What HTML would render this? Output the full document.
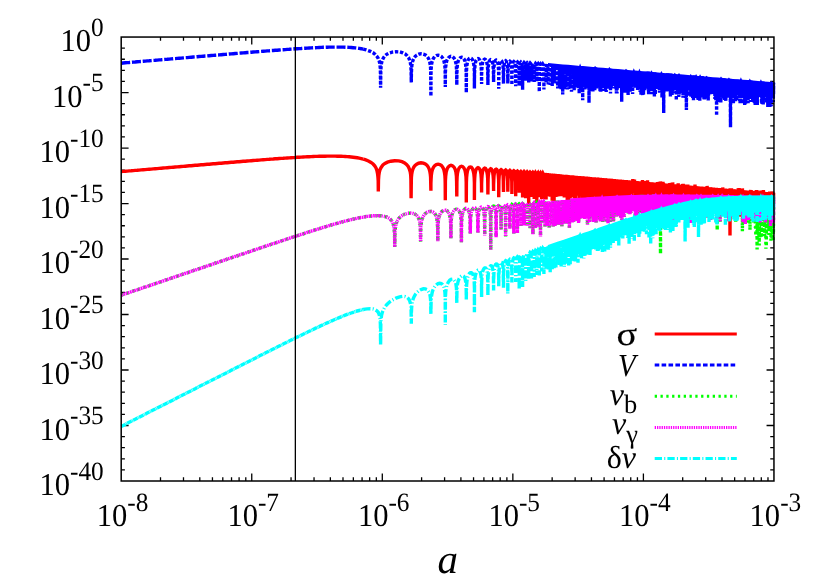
<!DOCTYPE html>
<html><head><meta charset="utf-8"><title>chart</title>
<style>html,body{margin:0;padding:0;background:#fff}svg{display:block}</style>
</head><body>
<svg width="830" height="581" viewBox="0 0 830 581" style="will-change:transform">
<rect width="830" height="581" fill="#fff"/>
<path d="M160.50 481.00v-3.70M160.50 37.05v3.70M183.49 481.00v-3.70M183.49 37.05v3.70M199.80 481.00v-3.70M199.80 37.05v3.70M212.45 481.00v-3.70M212.45 37.05v3.70M222.79 481.00v-3.70M222.79 37.05v3.70M231.53 481.00v-3.70M231.53 37.05v3.70M239.10 481.00v-3.70M239.10 37.05v3.70M245.78 481.00v-3.70M245.78 37.05v3.70M251.75 481.00v-7.40M251.75 37.05v7.40M291.05 481.00v-3.70M291.05 37.05v3.70M314.04 481.00v-3.70M314.04 37.05v3.70M330.35 481.00v-3.70M330.35 37.05v3.70M343.00 481.00v-3.70M343.00 37.05v3.70M353.34 481.00v-3.70M353.34 37.05v3.70M362.08 481.00v-3.70M362.08 37.05v3.70M369.65 481.00v-3.70M369.65 37.05v3.70M376.33 481.00v-3.70M376.33 37.05v3.70M382.30 481.00v-7.40M382.30 37.05v7.40M421.60 481.00v-3.70M421.60 37.05v3.70M444.59 481.00v-3.70M444.59 37.05v3.70M460.90 481.00v-3.70M460.90 37.05v3.70M473.55 481.00v-3.70M473.55 37.05v3.70M483.89 481.00v-3.70M483.89 37.05v3.70M492.63 481.00v-3.70M492.63 37.05v3.70M500.20 481.00v-3.70M500.20 37.05v3.70M506.88 481.00v-3.70M506.88 37.05v3.70M512.85 481.00v-7.40M512.85 37.05v7.40M552.15 481.00v-3.70M552.15 37.05v3.70M575.14 481.00v-3.70M575.14 37.05v3.70M591.45 481.00v-3.70M591.45 37.05v3.70M604.10 481.00v-3.70M604.10 37.05v3.70M614.44 481.00v-3.70M614.44 37.05v3.70M623.18 481.00v-3.70M623.18 37.05v3.70M630.75 481.00v-3.70M630.75 37.05v3.70M637.43 481.00v-3.70M637.43 37.05v3.70M643.40 481.00v-7.40M643.40 37.05v7.40M682.70 481.00v-3.70M682.70 37.05v3.70M705.69 481.00v-3.70M705.69 37.05v3.70M722.00 481.00v-3.70M722.00 37.05v3.70M734.65 481.00v-3.70M734.65 37.05v3.70M744.99 481.00v-3.70M744.99 37.05v3.70M753.73 481.00v-3.70M753.73 37.05v3.70M761.30 481.00v-3.70M761.30 37.05v3.70M767.98 481.00v-3.70M767.98 37.05v3.70M121.20 48.15h3.70M773.95 48.15h-3.70M121.20 59.25h3.70M773.95 59.25h-3.70M121.20 70.35h3.70M773.95 70.35h-3.70M121.20 81.44h3.70M773.95 81.44h-3.70M121.20 92.54h7.40M773.95 92.54h-7.40M121.20 103.64h3.70M773.95 103.64h-3.70M121.20 114.74h3.70M773.95 114.74h-3.70M121.20 125.84h3.70M773.95 125.84h-3.70M121.20 136.94h3.70M773.95 136.94h-3.70M121.20 148.04h7.40M773.95 148.04h-7.40M121.20 159.14h3.70M773.95 159.14h-3.70M121.20 170.24h3.70M773.95 170.24h-3.70M121.20 181.33h3.70M773.95 181.33h-3.70M121.20 192.43h3.70M773.95 192.43h-3.70M121.20 203.53h7.40M773.95 203.53h-7.40M121.20 214.63h3.70M773.95 214.63h-3.70M121.20 225.73h3.70M773.95 225.73h-3.70M121.20 236.83h3.70M773.95 236.83h-3.70M121.20 247.93h3.70M773.95 247.93h-3.70M121.20 259.02h7.40M773.95 259.02h-7.40M121.20 270.12h3.70M773.95 270.12h-3.70M121.20 281.22h3.70M773.95 281.22h-3.70M121.20 292.32h3.70M773.95 292.32h-3.70M121.20 303.42h3.70M773.95 303.42h-3.70M121.20 314.52h7.40M773.95 314.52h-7.40M121.20 325.62h3.70M773.95 325.62h-3.70M121.20 336.72h3.70M773.95 336.72h-3.70M121.20 347.81h3.70M773.95 347.81h-3.70M121.20 358.91h3.70M773.95 358.91h-3.70M121.20 370.01h7.40M773.95 370.01h-7.40M121.20 381.11h3.70M773.95 381.11h-3.70M121.20 392.21h3.70M773.95 392.21h-3.70M121.20 403.31h3.70M773.95 403.31h-3.70M121.20 414.41h3.70M773.95 414.41h-3.70M121.20 425.51h7.40M773.95 425.51h-7.40M121.20 436.60h3.70M773.95 436.60h-3.70M121.20 447.70h3.70M773.95 447.70h-3.70M121.20 458.80h3.70M773.95 458.80h-3.70M121.20 469.90h3.70M773.95 469.90h-3.70" stroke="#000" stroke-width="1.3" fill="none"/>
<clipPath id="cp"><rect x="120.5" y="37.05" width="655.05" height="443.95"/></clipPath>
<g clip-path="url(#cp)" fill="none" stroke-width="3.4" stroke-linejoin="miter" stroke-miterlimit="3">
<path stroke="#ff0000" d="M121.2 171.6l2-0.2l2-0.1l2-0.2l2-0.2l2-0.1l2-0.2l2-0.2l2-0.1l2-0.2l2-0.2l2-0.2l2-0.1l2-0.2l2-0.2l2-0.1l2-0.2l2-0.2l2-0.1l2-0.2l2-0.2l2-0.2l2-0.1l2-0.2l2-0.2l2-0.1l2-0.2l2-0.2l2-0.1l2-0.2l2-0.2l2-0.1l2-0.2l2-0.2l2-0.2l2-0.1l2-0.2l2-0.2l2-0.1l2-0.2l2-0.2l2-0.1l2-0.2l2-0.2l2-0.1l2-0.2l2-0.2l2-0.1l2-0.2l2-0.2l2-0.1l2-0.2l2-0.2l2-0.1l2-0.2l2-0.2l2-0.1l2-0.2l2-0.2l2-0.1l2-0.2l2-0.2l2-0.1l2-0.2l2-0.1l2-0.2l2-0.2l2-0.1l2-0.2l2-0.1l2-0.2l2-0.2l2-0.1l2-0.2l2-0.1l2-0.2l2-0.1l2-0.2l2-0.1l2-0.2l2-0.1l2-0.1l2-0.2l2-0.1l2-0.1l2-0.2l2-0.1l2-0.1l2-0.2l2-0.1l2-0.1l2-0.1l2-0.1l2-0.1l2-0.1l2-0.1l2-0.1l2-0.1l2 0l2-0.1l2-0.1l2 0l2 0l2-0.1l2 0l2 0l2 0l2 0l2 0.1l2 0l2 0.1l2 0.1l2 0.1l2 0.1l2 0.2l2 0.2l2 0.2l2 0.3l2 0.3l2 0.4l2 0.4l2 0.5"/>
<path stroke="#ff0000" d="M363.2 159.1l2 0.6l3.2 1.3l2.6 1.4l2.1 1.6l1.6 1.8l1.3 2.1l0.9 2.4l0.6 3l0.4 3.3l0.3 4.4l0.1 10.5l0.2-11.5l0.3-4.4l0.5-3.3l0.8-2.9l1.2-2.3l1.6-2.1l2-1.5l2.6-1.3l3.3-1l3.9-0.5l4 0.2l3.3 0.8l2.6 1.2l1.9 1.6l1.7 2l1.1 2.4l0.9 2.9l0.5 3.3l0.2 4.4l0.2 18.7l0.2-16.2l0.1-4.4l0.3-3.3l0.5-2.9l0.7-2.3l1-2.1l1.2-1.5l1.6-1.3l1.9-1l2.4-0.4l2.4 0.3l1.9 0.9l1.6 1.2l1.2 1.6l1 2l0.7 2.4l0.5 2.9l0.3 3.3l0.1 4.5l0.2 8.8l0-7.3l0.2-4.4l0.2-3.4l0.4-2.9l0.5-2.3l0.7-2l0.8-1.5l1.2-1.4l1.4-0.9l1.8-0.4l1.7 0.4l1.5 0.8l1.1 1.3l0.9 1.6l0.7 2l0.5 2.4l0.4 2.9l0.2 3.3l0.1 4.5l0.1 16.9l0.1-19.2l0.3-5.1l0.5-3.9l0.8-2.9l1.2-2.2l1.5-1.3l1.3-0.4l1.4 0.4l1.5 1.3l1.2 2.1l0.8 2.9l0.5 4l0.2 5.1l0.2 15.4l0.1-14.5l0.2-5.1l0.4-3.9l0.7-2.9l1-2.2l1.2-1.3l1.1-0.4l1.2 0.4l1.2 1.3l1 2.1l0.6 2.9l0.5 4l0.2 5.1l0.1 20.6l0.1-19.8l0.2-5.2l0.4-3.9l0.5-2.9l0.8-2.1l1.1-1.4l1-0.3l1 0.3l1 1.3l0.8 2.2l0.6 2.9l0.4 3.9l0.2 5.2l0 17.3l0.1-16.7l0.2-5.1l0.3-4l0.5-2.8l0.7-2.2l1-1.3l0.8-0.4l0.9 0.4l0.9 1.3l0.7 2.1l0.5 2.9l0.3 4l0.2 5.1l0.1 9l0-8.4l0.2-5.1l0.3-4l0.4-2.9l0.6-2.1l0.9-1.3l0.7-0.4l0.8 0.3l0.8 1.3l0.6 2.2l0.5 2.9l0.3 3.9l0.1 5.2l0.1 10.4l0.1-9.9l0.1-5.1l0.2-4l0.4-2.9l0.6-2.1l0.8-1.3l0.6-0.4l0.7 0.3l0.8 1.4l0.5 2.1l0.4 2.9l0.3 3.9l0.1 5.2l0.1 6.5l0-6l0.2-5.2l0.2-3.9l0.4-2.9l0.5-2.1l0.6-1.4l0.7-0.3l0.6 0.3l0.7 1.3l0.5 2.2l0.3 2.9l0.3 3.9l0.1 5.2l0 12.2l0.2-16.2l0.3-5.2l0.5-3.6l0.7-2l0.7-0.6l0.7 0.5l0.7 2l0.6 3.6l0.2 5.3l0.2 11l0.1-10.6l0.3-5.3l0.4-3.5l0.7-2.1l0.7-0.5l0.6 0.5l0.7 2l0.5 3.6l0.2 5.3l0.1 10.3l0.2-10l0.2-5.2l0.5-3.6l0.6-2l0.6-0.6l0.6 0.6l0.6 2l0.4 3.6l0.3 5.2l0.1 12.3l0.1-11.9l0.2-5.3l0.5-3.6l0.5-2l0.6-0.5l0.6 0.5l0.5 2l0.4 3.6l0.3 5.3l0.1 14.2l0.1-13.9l0.2-5.3l0.4-3.5l0.5-2.1l0.6-0.5l0.5 0.5l0.5 2l0.4 3.6l0.2 5.3l0.1 10.3l0.1-10l0.2-5.3l0.4-3.6l0.5-2l0.5-0.5l0.5 0.5l0.5 2l0.4 3.6l0.2 5.3l0.1 14.8l0.1-14.6l0.2-5.2l0.3-3.6l0.5-2l0.4-0.6l0.5 0.6l0.5 2l0.3 3.6l0.2 5.2l0.1 15.4l0.1-15.1l0.2-5.2l0.3-3.6l0.5-2l0.4-0.6l0.5 0.6l0.4 2l0.3 3.6l0.2 5.2l0.1 24.1l0.1-23.9l0.2-5.2l0.3-3.6l0.4-2l0.4-0.5l0.5 0.5l0.4 2l0.3 3.6l0.2 5.2l0 13.7l0.1-13.4l0.2-5.2l0.3-3.6l0.4-2l0.4-0.6l0.4 0.5l0.4 2l0.3 3.6l0.2 5.3l0 15.2l0.1-15l0.2-5.2l0.3-3.6l0.4-2l0.3-0.6l0.4 0.6l0.4 2l0.3 3.6l0.2 5.2l0 18.8l0.1-18.6l0.1-5.2l0.3-3.6l0.4-2l0.4-0.6l0.3 0.6l0.4 2l0.3 3.6l0.1 5.2l0.1 13.2l0.1-13l0.1-5.2l0.3-3.6l0.3-2l0.4-0.6l0.3 0.6l0.4 2l0.2 3.6l0.2 5.2l0.1 15l0-14.8l0.2-5.2l0.2-3.6l0.4-2l0.3-0.6l0.3 0.6l0.4 2l0.2 3.6l0.2 5.2l0 14.8l0.2-17.9l0.3-5.5l0.6-2.6l0.7 2.6l0.3 5.5l0.1 18.2l0.1-18l0.3-5.5l0.7-2.6l0.6 2.6l0.3 5.5l0.1 14.6l0.1-14.4l0.3-5.6l0.6-2.5l0.6 2.5l0.3 5.5l0.1 15.1l0.2-14.9l0.2-5.5l0.6-2.6l0.6 2.6l0.3 5.5l0.1 18.9l0.1-18.7l0.3-5.5l0.5-2.6l0.6 2.6l0.3 5.5l0.1 18.9l0.1-18.8l0.2-5.5l0.6-2.5l0.5 2.5l0.3 5.5l0.1 14.8l0.1-14.6l0.3-5.5l0.5-2.6l0.5 2.6l0.3 5.5l0.1 14.1l0.1-14l0.2-5.5l0.5-2.5l0.6 2.5l0.2 5.5l0.1 13.3l0.1-13.1l0.2-5.5l0.5-2.6l0.5 2.6l0.3 5.5l0.1 13.6l0.1-13.5l0.2-5.5l0.5-2.5l0.5 2.5l0.2 5.5l0.1 12.8l0.1-12.6l0.2-5.5l0.5-2.6l0.4 2.5l0.3 5.6l0.1 14.4l0.1-14.3l0.2-5.5l0.4-2.6l0.5 2.6l0.2 5.5l0.1 13.3l0.1-13.2l0.2-5.5l0.4-2.5l0.5 2.5l0.2 5.5l0.1 26.1l0.1-25.9l0.2-5.6l0.4-2.5l0.5 2.5l0.2 5.5l0 18.7l0.1-18.5l0.2-5.5l0.5-2.6l0.4 2.6l0.2 5.5l0.1 15.1l0-15l0.2-5.5l0.5-2.6l0.4 2.6l0.2 5.5l0 12.8l0.1-12.7l0.2-5.5l0.4-2.6l0.4 2.6l0.2 5.5l0.1 13.2l0.1-13.1l0.2-5.5l0.4-2.6l0.3 2.6l0.2 5.5l0.1 14.8l0.1-14.7l0.2-5.5l0.4-2.5l0.3 2.5l0.2 5.5l0.1 16.4l0.1-16.3l0.2-5.5l0.3-2.5l0.4 2.5l0.2 5.5l0.1 11.8l0-11.7l0.2-5.5l0.4-2.5l0.3 2.5l0.2 5.5l0.1 11.2l0.1-11.1l0.1-5.5l0.4-2.5l0.4 2.5l0.1 5.5l0.1 14.4l0.1-14.2l0.1-5.6l0.4-2.5l0.3 2.5l0.2 5.5l0.1 12.3l0.1-12.1l0.1-5.6l0.4-2.5l0.3 2.5l0.2 5.5l0 10.3l0.1-10.2l0.2-5.5l0.3-2.5l0.3 2.5l0.2 5.5l0.1 15.6l0-15.5l0.2-5.5l0.3-2.5l0.4 2.5l0.1 5.5l0.1 14.5l0.1-14.4l0.1-5.5l0.3-2.5l0.4 2.5l0.1 5.5l0.1 19l0-18.9l0.2-5.5l0.3-2.5l0.3 2.5l0.2 5.5l0 11.9l0.1-11.8l0.2-5.5l0.3-2.6l0.3 2.6l0.1 5.5l0.1 11.6l0.1-11.5l0.1-5.5l0.3-2.6l0.3 2.6l0.2 5.5l0 12.7l0.1-12.6l0.1-5.5l0.3-2.6l0.3 2.6l0.2 5.5l0 12.3l0.2-16.5l0.3-3.8l0.4 3.8l0.1 13.9l0.2-13.8l0.3-3.8l0.4 3.8l0.1 20.4l0.2-20.3l0.3-3.8l0.3 3.8l0.2 13.9l0.1-13.8l0.3-3.8l0.4 3.8l0.1 19.5l0.2-19.5l0.3-3.8l0.3 3.8l0.1 13.1l0.2-13l0.3-3.8l0.3 3.8l0.2 12.9l0.1-12.8l0.3-3.8l0.3 3.8l0.2 14.7l0.1-14.6l0.3-3.8l0.3 3.8l0.1 20.8l0.2-20.8l0.3-3.8l0.3 3.8l0.1 12.5l0.1-12.4l0.3-3.8l0.4 3.8l0.1 13.7l0.1-13.6l0.3-3.8l0.3 3.8l0.1 12.9l0.2-12.8l0.2-3.8l0.3 3.8l0.2 17l0.1-17l0.3-3.8l0.3 3.8l0.1 13.3l0.1-13.2l0.3-3.8l0.3 3.8l0.1 17.7l0.1-17.6l0.3-3.8l0.3 3.8l0.1 12.3l0.1-12.3l0.3-3.8l0.3 3.8l0.1 16.8l0.1-16.7l0.3-3.8l0.2 3.8l0.2 25.8l0.1-25.7l0.2-3.8l0.3 3.8l0.1 15.5l0.1-15.5l0.3-3.8l0.3 3.8l0.1 19l0.1-18.9l0.2-3.8l0.3 3.8l0.1 11.6l0.1-11.5l0.3-3.8l0.2 3.8l0.2 12.8l0.1-12.8l0.2-3.8l0.3 3.8l0.1 13.3l0.1-13.2l0.2-3.8l0.3 3.8l0.1 19.1l0.1-19.1l0.3-3.8l0.2 3.8l0.1 21.9l0.1-21.8l0.3-3.8l0.2 3.8l0.1 13.8l0.1-13.7l0.3-3.8l0.2 3.8l0.1 15.3l0.1-15.3l0.2-3.8l0.3 3.8l0.1 19.7l0.1-19.6l0.2-3.8l0.3 3.8l0.1 11.7l0.1-11.7l0.2-3.8l0.2 3.8l0.1 11.7l0.1-11.6l0.3-3.8l0.2 3.8l0.1 11.2l0.1-11.1l0.2-3.9l0.2 3.8l0.1 14.5l0.1-14.4l0.3-3.8l0.2 3.8l0.1 10.5l0.1-10.4l0.2-3.8l0.2 3.8l0.1 13.6l0.1-13.6l0.2-3.8l0.3 3.8l0.1 10.5l0-10.4l0.3-3.8l0.2 3.8l0.1 11.8l0.1-11.8l0.2-3.8l0.2 3.8l0.1 12.1l0.1-12l0.2-3.8l0.2 3.8l0.1 18.6l0.1-18.6l0.2-3.8l0.2 3.8l0.1 9.6l0.1-9.5l0.2-3.8l0.2 3.8l0.1 10.8l0.1-10.8l0.2-3.8l0.2 3.8l0.1 10.8l0.1-10.7l0.2-3.8l0.2 3.8l0.1 12.8l0.1-12.8l0.2-3.8l0.2 3.8l0.1 18.2l0-18.1l0.2-3.8l0.2 3.8l0.1 19.9l0.1-19.9l0.2-3.8l0.2 3.8l0.1 12.2l0.1-12.1l0.2-3.8l0.2 3.8l0.1 10.5l0-10.5l0.2-3.8l0.2 3.8l0.1 11.1l0.1-11l0.2-3.8l0.2 3.8l0.1 23.3l0-23.3l0.2-3.8l0.2 3.8l0.1 10.5l0.1-10.4l0.2-3.9l0.2 3.9l0 15.6l0.1-15.6l0.2-3.8l0.2 3.8l0.1 10.4l0.1-10.4l0.1-3.8l0.2 3.8l0.1 9.1l0.1-9l0.2-3.8l0.2 3.8l0 10.3l0.1-10.3l0.2-3.8l0.2 3.8l0.1 12l0-11.9l0.2-3.8l0.2 3.8l0.1 8.7l0-8.7l0.2-3.8l0.2 3.8l0.1 12.3l0.1-12.2l0.1-3.8l0.2 3.8l0.1 13l0.1-13l0.1-3.8l0.2 3.8l0.1 11.2l0.1-11.1l0.1-3.9l0.2 3.9l0.1 8.8l0.1-8.8l0.1-3.8l0.2 3.8l0.1 8.2l0.1-8.2l0.1-3.8l0.2 3.8l0.1 15l0-14.9l0.2-3.8l0.2 3.8l0.1 13.2l0-13.2l0.2-3.8l0.2 3.8l0 11.6l0.1-11.5l0.2-3.8l0.1 3.8l0.1 10.7l0.1-10.7l0.1-3.8l0.2 3.8l0.1 8.5l0.1-8.5l0.1-3.8l0.2 3.8l0.2 7.9l0.2-13.3l0.2 12.2l0.2-10.5l0.2 10.6l0.2-11.3l0.3 12.5l0.2-11.7l0.2 10.6l0.2-11.9l0.2 12.9l0.2-11.5l0.2 18l0.2-18l0.2 10.6l0.2-10.6l0.3 10.6l0.2-10.5l0.2 10.5l0.2-10.5l0.2 15.5l0.2-15.5l0.2 16.7l0.2-16.6l0.2 21.7l0.2-21.7l0.3 16l0.2-16l0.2 14.3l0.2-14.2l0.2 13.3l0.2-13.3l0.2 24.4l0.2-24.3l0.2 10.5l0.2-10.5l0.3 14.5l0.2-14.5l0.2 21.4l0.2-21.3l0.2 12.8l0.2-12.8l0.2 21.9l0.2-21.9l0.2 10.6l0.2-10.5l0.3 17l0.2-18.6l0.2 12.2l0.2-10.6l0.2 10.6l0.2-10.5l0.2 10.5l0.2-10.5l0.2 19l0.2-19l0.3 12.3l0.2-13.1l0.2 13.6l0.2-12.7l0.2 14.5l0.2-14.4l0.2 13.1l0.2-13.1l0.2 19.1l0.2-19.1l0.3 19.4l0.2-19.3l0.2 13.3l0.2-13.3l0.2 12.4l0.2-14.1l0.2 14.3l0.2-12.5l0.2 13.2l0.2-13.2l0.3 10.6l0.2-10.6l0.2 25.6l0.2-25.5l0.2 11.9l0.2-11.9l0.2 18.2l0.2-18.2l0.2 10.6l0.2-10.5l0.3 22.9l0.2-22.9l0.2 10.6l0.2-10.5l0.2 15.2l0.2-15.2l0.2 14.1l0.2-14.1l0.2 10.6l0.2-10.5l0.3 10.5l0.2-10.5l0.2 10.7l0.2-10.7l0.2 10.6l0.2-10.5l0.2 14.4l0.2-14.4l0.2 14l0.2-14l0.3 16.4l0.2-16.3l0.2 10.5l0.2-10.5l0.2 10.6l0.2-10.6l0.2 10.6l0.2-10.5l0.2 10.5l0.2-10.5l0.3 11.3l0.2-11.2l0.2 11l0.2-11.9l0.2 16.1l0.2-15.2l0.2 10.6l0.2-10.5l0.2 12.3l0.2-12.3l0.3 10.6l0.2-11.8l0.2 13.8l0.2-12.5l0.2 10.5l0.2-10.5l0.2 26.8l0.2-28.5l0.2 13.5l0.2-11.7l0.3 11.9l0.2-11.9l0.2 13.8l0.2-13.8l0.2 19.2l0.2-19.1l0.2 16.3l0.2-16.3l0.2 10.6l0.2-12.2l0.3 19.5l0.2-17.8l0.2 14.3l0.2-14.3l0.2 12.4l0.2-12.3l0.2 10.5l0.2-10.5l0.2 17.2l0.2-17.2l0.3 21.3l0.2-21.2l0.2 16.9l0.2-16.9l0.2 16l0.2-16l0.2 11.9l0.2-11.8l0.2 14.4l0.2-14.4l0.3 24.4l0.2-24.4l0.2 14.8l0.2-14.7l0.2 10.8l0.2-10.8l0.2 15.6l0.2-15.5l0.2 10.5l0.2-10.5l0.3 10.6l0.2-11.4l0.2 11.5l0.2-10.6l0.2 21.7l0.2-21.7l0.2 26.9l0.2-26.9l0.2 14.4l0.2-15.6l0.3 18l0.2-16.7l0.2 10.6l0.2-10.6l0.2 12.3l0.2-14l0.2 13l0.2-11.2l0.2 10.6l0.2-10.6l0.3 13.2l0.2-13.1l0.2 10.5l0.2-10.5l0.2 10.6l0.2-10.5l0.2 10.8l0.2-10.8l0.2 10.6l0.2-10.6l0.3 10.6l0.2-10.5l0.2 12l0.2-12l0.2 12.7l0.2-12.7l0.2 11.9l0.2-11.8l0.2 13.8l0.2-13.8l0.3 11.7l0.2-12.9l0.2 11.8l0.2-10.5l0.2 11.7l0.2-11.7l0.2 11.3l0.2-11.3l0.2 24l0.2-23.9l0.3 10.5l0.2-10.5l0.2 14.2l0.2-14.1l0.2 15.2l0.2-15.2l0.2 14.3l0.2-14.3l0.2 10.6l0.2-10.5l0.3 20.4l0.2-21.3l0.2 12.2l0.2-11.3l0.2 13l0.2-14.3l0.2 14.4l0.2-13l0.2 12l0.2-12l0.3 16.5l0.2-17.2l0.2 18.8l0.2-18l0.2 10.6l0.2-10.6l0.2 18.1l0.2-18l0.2 24.8l0.2-24.8l0.3 22.6l0.2-22.5l0.2 10.5l0.2-11.2l0.2 13.9l0.2-13.2l0.2 10.6l0.2-11.4l0.2 15.7l0.2-14.8l0.3 16l0.2-16l0.2 10.6l0.2-10.5l0.2 10.5l0.2-10.5l0.2 13.3l0.2-13.3l0.2 22.2l0.2-22.1l0.3 10.5l0.2-10.5l0.2 23.6l0.2-23.6l0.2 10.6l0.2-10.5l0.2 10.9l0.2-10.9l0.2 13.3l0.2-13.2l0.3 18.8l0.2-18.8l0.2 16.8l0.2-16.8l0.2 10.6l0.2-10.5l0.2 13.3l0.2-13.3l0.2 17.9l0.2-17.9l0.3 17.5l0.2-18.9l0.2 22.8l0.2-21.3l0.2 10.6l0.2-10.6l0.2 10.6l0.2-10.5l0.2 12.6l0.2-12.6l0.3 10.6l0.2-10.6l0.2 12.3l0.2-12.2l0.2 15.7l0.2-15.7l0.2 18.6l0.2-18.5l0.2 17.9l0.2-17.9l0.3 25.7l0.2-25.7l0.2 15.8l0.2-15.7l0.2 11.2l0.2-11.2l0.2 26.5l0.2-26.5l0.2 11.3l0.2-11.2l0.3 10.5l0.2-10.5l0.2 14.6l0.2-14.6l0.2 10.6l0.2-10.5l0.2 21.9l0.2-21.9l0.2 10.6l0.2-10.6l0.3 15.9l0.2-15.8l0.2 10.5l0.2-10.5l0.2 16.8l0.2-16.7l0.2 18.2l0.2-18.2l0.2 20.8l0.2-20.8l0.3 13l0.2-12.9l0.2 10.5l0.2-10.5l0.2 17.8l0.2-17.8l0.2 12.6l0.2-12.5l0.2 14.7l0.2-15.9l0.3 11.8l0.2-10.6l0.2 13.9l0.2-13.8l0.2 10.5l0.2-10.5l0.2 12.6l0.2-12.6l0.2 10.6l0.2-10.5l0.3 23.4l0.2-23.4l0.2 10.6l0.2-10.5l0.2 10.5l0.2-10.5l0.2 25.4l0.2-25.4l0.2 10.6l0.2-10.5l0.3 22.3l0.2-22.3l0.2 10.6l0.2-10.6l0.2 10.6l0.2-10.5l0.2 10.5l0.2-10.5l0.2 11.9l0.2-11.9l0.3 15.3l0.2-15.2l0.2 11.8l0.2-11.8l0.2 14.7l0.2-14.7l0.2 15.8l0.2-15.7l0.2 11.7l0.2-11.7l0.3 17.8l0.2-17.7l0.2 10.5l0.2-10.5l0.2 10.6l0.2-10.6l0.2 14.9l0.2-14.8l0.2 16.1l0.2-16.1l0.3 13.2l0.2-13.2l0.2 18.6l0.2-18.5l0.2 10.5l0.2-10.5l0.2 10.6l0.2-10.6l0.2 13.7l0.2-13.6l0.3 10.5l0.2-10.5l0.2 10.6l0.2-10.6l0.2 12.5l0.2-12.4l0.2 18.4l0.2-18.4l0.2 11.2l0.2-11.1l0.3 15.5l0.2-15.5l0.2 14.8l0.2-15.8l0.2 11.6l0.2-10.5l0.2 10.6l0.2-10.6l0.2 18.5l0.2-18.5l0.3 17l0.2-16.9l0.2 10.5l0.2-10.5l0.2 15.8l0.2-15.8l0.2 15.9l0.2-15.8l0.2 24.4l0.2-24.4l0.3 10.6l0.2-10.6l0.2 15.5l0.2-15.4l0.2 10.5l0.2-10.5l0.2 23.2l0.2-23.1l0.2 13.2l0.2-13.2l0.3 21.9l0.2-21.9l0.2 13.8l0.2-13.7l0.2 10.5l0.2-10.5l0.2 13.4l0.2-13.4l0.2 46.5l0.2-47.2l0.3 25.1l0.2-24.3l0.2 15l0.2-15l0.2 13.7l0.2-14.5l0.2 12.8l0.2-11.9l0.2 13.3l0.2-13.3l0.3 10.6l0.2-10.5l0.2 14.5l0.2-14.5l0.2 10.6l0.2-10.5l0.2 11.9l0.2-11.9l0.2 15.3l0.2-15.3l0.3 12.2l0.2-12.1l0.2 19.5l0.2-19.5l0.2 13.3l0.2-13.3l0.2 12.7l0.2-12.6l0.2 10.5l0.2-10.5l0.3 21.4l0.2-21.4l0.2 16.6l0.2-16.5l0.2 10.5l0.2-10.5l0.2 12.4l0.2-13.8l0.2 14.1l0.2-12.6l0.3 10.9l0.2-12.6l0.2 28.6l0.2-26.8l0.2 11.2l0.2-11.2l0.2 16.5l0.2-16.5l0.2 10.6l0.2-10.5l0.3 12.8l0.2-13.7l0.2 11.5l0.2-12.2l0.2 19.9l0.2-18.2l0.2 13.5l0.2-15.2l0.2 12.3l0.2-10.6l0.3 26.3l0.2-26.2l0.2 22.7l0.2-22.7l0.2 18.9l0.2-18.9l0.2 10.6l0.2-10.5l0.2 10.5l0.2-10.5l0.3 20.5l0.2-20.4l0.2 16l0.2-16l0.2 20l0.2-20l0.2 15.5l0.2-15.4l0.2 10.5l0.2-10.5l0.3 15.7l0.2-15.7l0.2 10.6l0.2-10.5l0.2 10.6l0.2-10.6l0.2 13.6l0.2-13.6l0.2 23l0.2-22.9l0.3 14.4l0.2-14.4l0.2 11.5l0.2-11.5l0.2 10.6l0.2-10.5l0.2 10.5l0.2-11.4l0.2 17.6l0.2-16.6l0.3 13l0.2-13l0.2 25.1l0.2-25.1l0.2 10.8l0.2-10.7l0.2 10.5l0.2-10.5l0.2 10.6l0.2-10.6l0.3 12.6l0.2-12.5l0.2 15.2l0.2-15.2l0.2 10.6l0.2-10.6l0.2 14l0.2-13.9l0.2 17.1l0.2-17.1l0.3 10.6l0.2-10.6l0.2 13.5l0.2-14.7l0.2 17.1l0.2-15.8l0.2 10.6l0.2-11.7l0.2 12.6l0.2-11.4l0.3 17.7l0.2-17.7l0.2 13.3l0.2-13.2l0.2 10.5l0.2-10.5l0.2 10.6l0.2-10.6l0.2 12.7l0.2-12.6l0.3 10.5l0.2-10.5l0.2 10.6l0.2-10.6l0.2 18.7l0.2-19.7l0.2 11.6l0.2-10.5l0.2 10.6l0.2-10.6l0.3 25.2l0.2-25.1l0.2 10.5l0.2-10.5l0.2 10.6l0.2-10.5l0.2 11.3l0.2-13.1l0.2 18.7l0.2-16.9l0.3 10.6l0.2-10.5l0.2 11.8l0.2-11.8l0.2 10.6l0.2-10.6l0.2 10.6l0.2-10.5l0.2 10.5l0.2-10.5l0.3 19.8l0.2-19.8l0.2 11.9l0.2-11.8l0.2 10.7l0.2-10.7l0.2 10.6l0.2-10.6l0.2 10.6l0.2-10.5l0.3 11.9l0.2-11.9l0.2 23.4l0.2-23.3l0.2 10.7l0.2-10.7l0.2 10.5l0.2-11.3l0.2 11.4l0.2-10.5l0.3 15.8l0.2-15.8l0.2 10.6l0.2-10.6l0.2 17l0.2-16.9l0.2 10.5l0.2-10.5l0.2 10.6l0.2-10.6l0.3 17.1l0.2-18.1l0.2 11.6l0.2-10.5l0.2 13.7l0.2-13.7l0.2 11.3l0.2-11.2"/>
<path fill="#0000ff" stroke="none" d="M548 63.1l5 0.5l5 0.4l5 0.4l5 0.4l5 0.5l5 0.4l1.1 0.2l1-2.3l1 2.3l1.9 0.2l5 0.4l5 0.5l1.1 0.1l1-1.2l1 1.2l1.9 0.3l5 0.4l5 0.4l0.4 0.1l1-1.2l1 1.2l2.6 0.4l5 0.4l5 0.4l2 0.3l1-1.1l1 1.1l1 0.1l5 0.5l-0.2 0l1-2.1l1 2.1l3.2 0.4l0.4 0.1l1-2.3l1 2.3l2.6 0.3l5 0.4l2.5 0.3l1-1.6l1 1.6l0.5 0.2l5 0.4l2.4 0.3l1-1.9l1 1.9l0.6 0.1l5 0.4l5 0.5l0.8 0.1l1-1.1l1 1.1l2.2 0.3l0 0.1l1-1.4l1 1.4l3 0.3l5 0.4l1.7 0.3l1-1.4l1 1.4l1.3 0.2l2.1 0.2l1-1.6l1 1.6l0.9 0.2l1.1 0.2l1-1.9l1 1.9l1.9 0.2l2.5 0.3l1-0.9l1 0.9l0.5 0.1l5 0.5l5 0.4l2 0.2l1-1.4l1 1.4l1 0.2l5 0.4l-0.1 0.1l1-1.1l1 1.1l3.1 0.4l5 0.4l1.9 0.2l1-2.2l1 2.2l1.1 0.2l5 0.4l0.8 0.2l1-1.7l1 1.7l2.2 0.3l5 0.4l1.9 0.2l1-2l1 2l1.1 0.2l5 0.4l2.4 0.3l1-1l1 1l0.6 0.2l1.8 0l0 15.4l-1.8 0l-5-0.5l-5-0.4l-5-0.4l-5-0.4l-5-0.5l-5-0.4l-5-0.4l-5-0.4l-5-0.5l-5-0.4l-5-0.4l-5-0.4l-5-0.5l-5-0.4l-5-0.4l-5-0.4l-5-0.5l-5-0.4l-5-0.4l-5-0.4l-5-0.5l-5-0.4l-5-0.4l-5-0.4l-5-0.5l-5-0.4l-5-0.4l-5-0.4l-5-0.5l-5-0.4l-5-0.4l-5-0.4l-5-0.5l-5-0.4l-5-0.4l-5-0.4l-5-0.5l-5-2.1l-5-2.2l-5-2.2l-5-2.2l-5-2.1l-5-2.2l-5-2.2l-5-2.2Z"/>
<path stroke="#0000ff" stroke-dasharray="9 1.8" d="M121.2 63.2l2-0.2l2-0.2l2-0.2l2-0.1l2-0.2l2-0.2l2-0.1l2-0.2l2-0.2l2-0.1l2-0.2l2-0.2l2-0.2l2-0.1l2-0.2l2-0.2l2-0.1l2-0.2l2-0.2l2-0.1l2-0.2l2-0.2l2-0.1l2-0.2l2-0.2l2-0.2l2-0.1l2-0.2l2-0.2l2-0.1l2-0.2l2-0.2l2-0.1l2-0.2l2-0.2l2-0.2l2-0.1l2-0.2l2-0.2l2-0.1l2-0.2l2-0.2l2-0.1l2-0.2l2-0.2l2-0.1l2-0.2l2-0.2l2-0.1l2-0.2l2-0.2l2-0.1l2-0.2l2-0.2l2-0.1l2-0.2l2-0.2l2-0.1l2-0.2l2-0.2l2-0.1l2-0.2l2-0.2l2-0.1l2-0.2l2-0.2l2-0.1l2-0.2l2-0.1l2-0.2l2-0.2l2-0.1l2-0.2l2-0.1l2-0.2l2-0.1l2-0.2l2-0.1l2-0.2l2-0.2l2-0.1l2-0.1l2-0.2l2-0.1l2-0.2l2-0.1l2-0.2l2-0.1l2-0.1l2-0.1l2-0.2l2-0.1l2-0.1l2-0.1l2-0.1l2-0.1l2-0.1l2-0.1l2-0.1l2-0.1l2-0.1l2 0l2-0.1l2-0.1l2 0l2 0l2 0l2 0l2 0l2 0l2 0l2 0.1l2 0.1l2 0.1l2 0.1l2 0.2l2 0.2l2 0.2l2 0.3l2 0.3l2 0.4"/>
<path stroke="#0000ff" stroke-dasharray="3.4 1.7" d="M363.2 49.1l2 0.5l2 0.6l3.2 1.2l2.7 1.4l2.1 1.6l1.6 1.8l1.4 2.1l0.9 2.4l0.7 2.9l0.4 3.4l0.2 4.4l0.2 16.4l0.2-17l0.3-4.4l0.4-3.3l0.8-2.9l1.1-2.3l1.5-2l1.8-1.6l2.5-1.3l3.1-0.9l3.7-0.4l3.7 0.2l3 0.9l2.5 1.2l1.8 1.6l1.6 2l1 2.4l0.8 2.9l0.5 3.4l0.2 4.4l0.2 11.7l0.1-9.5l0.2-4.4l0.3-3.3l0.5-2.9l0.7-2.3l1-2.1l1.1-1.5l1.6-1.3l2-0.9l2.3-0.4l2.3 0.3l2 0.8l1.6 1.3l1.1 1.6l1 2l0.7 2.4l0.5 2.9l0.3 3.3l0.1 4.5l0.2 23.2l0.1-21.8l0.1-4.4l0.2-3.3l0.4-2.9l0.5-2.3l0.7-2l0.9-1.6l1.1-1.3l1.5-0.9l1.7-0.4l1.7 0.3l1.5 0.9l1.1 1.3l0.9 1.5l0.7 2.1l0.5 2.3l0.4 2.9l0.2 3.4l0.1 4.4l0.1 12.6l0.1-14.8l0.3-5.2l0.5-3.9l0.8-2.9l1.2-2.1l1.5-1.3l1.3-0.4l1.4 0.3l1.5 1.3l1.2 2.1l0.8 3l0.5 3.9l0.2 5.2l0.2 12.8l0.1-11.9l0.2-5.2l0.4-3.9l0.7-2.9l1-2.1l1.2-1.3l1.1-0.4l1.2 0.3l1.2 1.3l1 2.1l0.6 3l0.5 3.9l0.2 5.2l0.1 19.7l0.1-19l0.2-5.1l0.4-3.9l0.5-2.9l0.8-2.2l1.1-1.3l1-0.4l1 0.4l1 1.3l0.8 2.1l0.6 2.9l0.4 4l0.2 5.1l0 14.7l0.1-14l0.2-5.2l0.3-3.9l0.5-2.9l0.7-2.1l1-1.4l0.8-0.3l0.9 0.3l0.9 1.3l0.7 2.2l0.5 2.9l0.3 3.9l0.2 5.2l0.1 9.6l0-9l0.2-5.2l0.3-3.9l0.4-2.9l0.6-2.2l0.9-1.3l0.7-0.4l0.8 0.4l0.8 1.3l0.6 2.1l0.5 2.9l0.3 4l0.1 5.1l0.1 10l0.1-9.4l0.1-5.2l0.2-3.9l0.4-2.9l0.6-2.2l0.8-1.3l0.6-0.3l0.7 0.3l0.8 1.3l0.5 2.1l0.4 2.9l0.3 4l0.1 5.2l0.1 6.5l0-6.1l0.2-5.1l0.2-4l0.4-2.9l0.5-2.1l0.6-1.3l0.7-0.4l0.6 0.4l0.7 1.3l0.5 2.1l0.3 2.9l0.3 4l0.1 5.1l0 12.9l0.2-16.9l0.3-5.2l0.5-3.6l0.7-2l0.7-0.6l0.7 0.6l0.7 2l0.6 3.6l0.2 5.2l0.2 11.7l0.1-11.3l0.3-5.2l0.4-3.6l0.7-2l0.7-0.6l0.6 0.6l0.7 2l0.5 3.6l0.2 5.2l0.1 11.3l0.2-10.9l0.2-5.3l0.5-3.5l0.6-2l0.6-0.6l0.6 0.5l0.6 2l0.4 3.6l0.3 5.3l0.1 12.2l0.1-11.9l0.2-5.2l0.5-3.6l0.5-2l0.6-0.6l0.6 0.6l0.5 2l0.4 3.6l0.3 5.2l0.1 13.3l0.1-13l0.2-5.2l0.4-3.6l0.5-2l0.6-0.6l0.5 0.6l0.5 2l0.4 3.6l0.2 5.2l0.1 12.5l0.1-12.2l0.2-5.2l0.4-3.6l0.5-2l0.5-0.6l0.5 0.6l0.5 2l0.4 3.6l0.2 5.2l0.1 16.1l0.1-15.8l0.2-5.2l0.3-3.6l0.5-2l0.4-0.6l0.5 0.5l0.5 2l0.3 3.6l0.2 5.3l0.1 6.7l0.1-6.4l0.2-5.3l0.3-3.6l0.5-2l0.4-0.5l0.5 0.5l0.4 2l0.3 3.6l0.2 5.2l0.1 8.5l0.1-8.2l0.2-5.2l0.3-3.6l0.4-2l0.4-0.6l0.5 0.6l0.4 2l0.3 3.6l0.2 5.2l0 7.2l0.1-7l0.2-5.2l0.3-3.6l0.4-2l0.4-0.6l0.4 0.6l0.4 2l0.3 3.6l0.2 5.2l0 7.4l0.1-7.1l0.2-5.3l0.3-3.6l0.4-2l0.3-0.5l0.4 0.5l0.4 2l0.3 3.6l0.2 5.3l0 6.7l0.1-6.5l0.1-5.3l0.3-3.5l0.4-2.1l0.4-0.5l0.3 0.5l0.4 2l0.3 3.6l0.1 5.3l0.1 16.6l0.1-16.4l0.1-5.3l0.3-3.5l0.3-2.1l0.4-0.5l0.3 0.5l0.4 2l0.2 3.6l0.2 5.3l0.1 6.7l0-6.5l0.2-5.3l0.2-3.5l0.4-2.1l0.3-0.5l0.3 0.5l0.4 2l0.2 3.6l0.2 5.3l0 14l0.2-17.2l0.3-5.5l0.6-2.5l0.7 2.5l0.3 5.5l0.1 10.3l0.1-10.1l0.3-5.5l0.7-2.5l0.6 2.5l0.3 5.5l0.1 11.9l0.1-11.7l0.3-5.5l0.6-2.6l0.6 2.6l0.3 5.5l0.1 12.3l0.2-12.1l0.2-5.5l0.6-2.6l0.6 2.6l0.3 5.5l0.1 13.2l0.1-13.1l0.3-5.5l0.5-2.5l0.6 2.5l0.3 5.5l0.1 9.8l0.1-9.6l0.2-5.5l0.6-2.6l0.5 2.6l0.3 5.5l0.1 10.2l0.1-10.1l0.3-5.5l0.5-2.5l0.5 2.5l0.3 5.5l0.1 15.3l0.1-15.1l0.2-5.5l0.5-2.6l0.6 2.6l0.2 5.5l0.1 13.7l0.1-13.6l0.2-5.5l0.5-2.5l0.5 2.5l0.3 5.5l0.1 15.7l0.1-15.5l0.2-5.5l0.5-2.6l0.5 2.6l0.2 5.5l0.1 20.7l0.1-20.6l0.2-5.5l0.5-2.6l0.4 2.6l0.3 5.5l0.1 15.6l0.1-15.5l0.2-5.5l0.4-2.5l0.5 2.5l0.2 5.5l0.1 13.1l0.1-12.9l0.2-5.5l0.4-2.6l0.5 2.6l0.2 5.5l0.1 15.3l0.1-15.2l0.2-5.5l0.4-2.6l0.5 2.6l0.2 5.5l0 14.8l0.1-14.7l0.2-5.5l0.5-2.6l0.4 2.6l0.2 5.5l0.1 14l0-13.9l0.2-5.5l0.5-2.5l0.4 2.5l0.2 5.5l0 17.2l0.1-17l0.2-5.5l0.4-2.6l0.4 2.5l0.2 5.6l0.1 12.7l0.1-12.6l0.2-5.5l0.4-2.6l0.3 2.6l0.2 5.5l0.1 15.5l0.1-15.4l0.2-5.5l0.4-2.6l0.3 2.6l0.2 5.5l0.1 11.8l0.1-11.7l0.2-5.5l0.3-2.6l0.4 2.6l0.2 5.5l0.1 12l0-11.9l0.2-5.5l0.4-2.6l0.3 2.6l0.2 5.5l0.1 13.2l0.1-13.1l0.1-5.5l0.4-2.6l0.4 2.6l0.1 5.5l0.1 18.5l0.1-18.4l0.1-5.5l0.4-2.6l0.3 2.6l0.2 5.5l0.1 14.7l0.1-14.6l0.1-5.5l0.4-2.6l0.3 2.6l0.2 5.5l0 14.6l0.1-14.5l0.2-5.5l0.3-2.6l0.3 2.6l0.2 5.5l0.1 24.8l0-24.7l0.2-5.5l0.3-2.6l0.4 2.6l0.1 5.5l0.1 10.6l0.1-10.5l0.1-5.5l0.3-2.6l0.4 2.6l0.1 5.5l0.1 13.8l0-13.7l0.2-5.5l0.3-2.6l0.3 2.6l0.2 5.5l0 12.8l0.1-12.7l0.2-5.5l0.3-2.6l0.3 2.6l0.1 5.5l0.1 10.7l0.1-10.6l0.1-5.6l0.3-2.5l0.3 2.5l0.2 5.6l0 12.5l0.1-12.5l0.1-5.5l0.3-2.5l0.3 2.5l0.2 5.5l0 26.8l0.2-30.9l0.3-3.8l0.4 3.8l0.1 19.1l0.2-19l0.3-3.9l0.4 3.8l0.1 15.1l0.2-15l0.3-3.8l0.3 3.8l0.2 16l0.1-15.9l0.3-3.8l0.4 3.8l0.1 19.9l0.2-19.8l0.3-3.8l0.3 3.8l0.1 14.1l0.2-14l0.3-3.8l0.3 3.8l0.2 18.5l0.1-18.5l0.3-3.8l0.3 3.8l0.2 14.9l0.1-14.8l0.3-3.8l0.3 3.8l0.1 16.2l0.2-16.1l0.3-3.8l0.3 3.8l0.1 13.3l0.1-13.2l0.3-3.8l0.4 3.8l0.1 14.7l0.1-14.7l0.3-3.8l0.3 3.8l0.1 12.8l0.2-12.7l0.2-3.8l0.3 3.8l0.2 18.6l0.1-18.5l0.3-3.8l0.3 3.8l0.1 19l0.1-18.9l0.3-3.9l0.3 3.9l0.1 14.6l0.1-14.6l0.3-3.8l0.3 3.8l0.1 12.6l0.1-12.5l0.3-3.8l0.3 3.8l0.1 18.1l0.1-18l0.3-3.9l0.2 3.9l0.2 12l0.1-12l0.2-3.8l0.3 3.8l0.1 15.4l0.1-15.3l0.3-3.8l0.3 3.8l0.1 17.7l0.1-17.6l0.2-3.9l0.3 3.8l0.1 18.7l0.1-18.6l0.3-3.8l0.2 3.8l0.2 11.2l0.1-11.1l0.2-3.8l0.3 3.8l0.1 13.4l0.1-13.4l0.2-3.8l0.3 3.8l0.1 13.1l0.1-13l0.3-3.8l0.2 3.8l0.1 15.9l0.1-15.8l0.3-3.8l0.2 3.8l0.1 11.5l0.1-11.5l0.3-3.8l0.2 3.8l0.1 20l0.1-19.9l0.2-3.8l0.3 3.8l0.1 13.4l0.1-13.4l0.2-3.8l0.3 3.8l0.1 10.8l0.1-10.7l0.2-3.8l0.2 3.8l0.1 12.3l0.1-12.3l0.3-3.8l0.2 3.8l0.1 14.8l0.1-14.7l0.2-3.8l0.2 3.8l0.1 10.4l0.1-10.3l0.3-3.8l0.2 3.8l0.1 10.5l0.1-10.5l0.2-3.8l0.2 3.8l0.1 11.8l0.1-11.7l0.2-3.8l0.3 3.8l0.1 15l0-15l0.3-3.8l0.2 3.8l0.1 19.5l0.1-19.4l0.2-3.8l0.2 3.8l0.1 19.4l0.1-19.4l0.2-3.8l0.2 3.8l0.1 14.2l0.1-14.1l0.2-3.8l0.2 3.8l0.1 12.7l0.1-12.7l0.2-3.8l0.2 3.8l0.1 13.8l0.1-13.7l0.2-3.8l0.2 3.8l0.1 14.3l0.1-14.3l0.2-3.8l0.2 3.8l0.1 9.9l0.1-9.8l0.2-3.8l0.2 3.8l0.1 13.3l0-13.3l0.2-3.8l0.2 3.8l0.1 9.4l0.1-9.3l0.2-3.8l0.2 3.8l0.1 27.1l0.1-27.1l0.2-3.8l0.2 3.8l0.1 14.8l0-14.7l0.2-3.8l0.2 3.8l0.1 16.5l0.1-16.5l0.2-3.8l0.2 3.8l0.1 8.9l0-8.8l0.2-3.8l0.2 3.8l0.1 16.9l0.1-16.9l0.2-3.8l0.2 3.8l0 9.7l0.1-9.6l0.2-3.9l0.2 3.9l0.1 17.9l0.1-17.9l0.1-3.8l0.2 3.8l0.1 12.6l0.1-12.6l0.2-3.8l0.2 3.8l0 10.9l0.1-10.8l0.2-3.8l0.2 3.8l0.1 10.4l0-10.4l0.2-3.8l0.2 3.8l0.1 10l0-9.9l0.2-3.8l0.2 3.8l0.1 10l0.1-10l0.1-3.8l0.2 3.8l0.1 19.9l0.1-19.8l0.1-3.8l0.2 3.8l0.1 15.4l0.1-15.4l0.1-3.8l0.2 3.8l0.1 9.2l0.1-9.2l0.1-3.8l0.2 3.8l0.1 11.3l0.1-11.2l0.1-3.8l0.2 3.8l0.1 16.5l0-16.5l0.2-3.8l0.2 3.8l0.1 13.7l0-13.6l0.2-3.8l0.2 3.8l0 8.1l0.1-8.1l0.2-3.8l0.1 3.8l0.1 11.7l0.1-11.6l0.1-3.9l0.2 3.8l0.1 14.6l0.1-14.5l0.1-3.8l0.2 3.8l0.2 18.6l0.2-22.4l0.2 10.6l0.2-10.5l0.2 10.5l0.2-10.5l0.3 13.4l0.2-13.4l0.2 13.1l0.2-13l0.2 10.6l0.2-10.6l0.2 10.6l0.2-10.6l0.2 16.3l0.2-16.2l0.3 10.5l0.2-10.5l0.2 15.2l0.2-15.1l0.2 10.5l0.2-10.5l0.2 10.6l0.2-10.6l0.2 18.1l0.2-18l0.3 12.4l0.2-12.4l0.2 10.6l0.2-10.6l0.2 10.6l0.2-10.5l0.2 11.5l0.2-11.5l0.2 13.5l0.2-13.5l0.3 19.7l0.2-19.6l0.2 10.5l0.2-10.5l0.2 22.8l0.2-22.8l0.2 11.4l0.2-11.3l0.2 17.9l0.2-18.9l0.3 14.2l0.2-13.1l0.2 22.9l0.2-22.9l0.2 15.3l0.2-15.3l0.2 21.9l0.2-21.8l0.2 10.5l0.2-10.5l0.3 10.8l0.2-10.8l0.2 17.6l0.2-17.5l0.2 14.5l0.2-14.5l0.2 10.6l0.2-10.6l0.2 10.6l0.2-10.5l0.3 10.5l0.2-10.5l0.2 14.3l0.2-14.3l0.2 16.2l0.2-17.3l0.2 11.7l0.2-10.5l0.2 10.6l0.2-10.5l0.3 21.3l0.2-23l0.2 19.7l0.2-18l0.2 12.1l0.2-12l0.2 10.5l0.2-10.5l0.2 10.6l0.2-10.6l0.3 10.6l0.2-10.5l0.2 10.5l0.2-10.5l0.2 20.9l0.2-20.9l0.2 17l0.2-16.9l0.2 10.5l0.2-10.5l0.3 16.3l0.2-16.3l0.2 10.6l0.2-10.5l0.2 10.9l0.2-10.9l0.2 10.6l0.2-10.5l0.2 22.8l0.2-24l0.3 14.8l0.2-13.6l0.2 20.9l0.2-20.8l0.2 12.1l0.2-12.1l0.2 10.6l0.2-10.6l0.2 10.6l0.2-10.5l0.3 10.5l0.2-10.5l0.2 13.1l0.2-13.1l0.2 10.6l0.2-10.5l0.2 15.3l0.2-15.3l0.2 10.6l0.2-10.6l0.3 10.7l0.2-10.6l0.2 18.8l0.2-18.8l0.2 12.3l0.2-12.2l0.2 10.5l0.2-11.5l0.2 14.8l0.2-13.8l0.3 10.6l0.2-10.5l0.2 10.5l0.2-10.5l0.2 23.6l0.2-23.6l0.2 22.1l0.2-22l0.2 16.8l0.2-16.8l0.3 22.8l0.2-22.8l0.2 38.6l0.2-38.5l0.2 12.1l0.2-12.1l0.2 10.6l0.2-10.6l0.2 12.3l0.2-12.2l0.3 17.8l0.2-17.8l0.2 12.9l0.2-12.8l0.2 13.7l0.2-13.7l0.2 16.9l0.2-16.9l0.2 16.1l0.2-16l0.3 13.3l0.2-14.7l0.2 18l0.2-16.6l0.2 10.6l0.2-10.5l0.2 10.8l0.2-10.8l0.2 11.9l0.2-11.9l0.3 10.6l0.2-10.5l0.2 10.5l0.2-12l0.2 23.1l0.2-21.6l0.2 17.4l0.2-18.5l0.2 21l0.2-19.8l0.3 10.6l0.2-10.5l0.2 19.8l0.2-19.8l0.2 10.6l0.2-10.6l0.2 16l0.2-15.9l0.2 10.5l0.2-10.5l0.3 17.9l0.2-17.9l0.2 10.6l0.2-10.5l0.2 10.5l0.2-10.5l0.2 10.6l0.2-10.6l0.2 14.3l0.2-14.2l0.3 10.5l0.2-10.5l0.2 24.9l0.2-26l0.2 15.9l0.2-14.7l0.2 10.5l0.2-10.5l0.2 16.6l0.2-16.5l0.3 13.7l0.2-13.7l0.2 10.6l0.2-10.6l0.2 21.3l0.2-21.2l0.2 18.5l0.2-18.5l0.2 13.2l0.2-13.2l0.3 10.6l0.2-10.5l0.2 10.7l0.2-10.7l0.2 13.3l0.2-13.3l0.2 15.5l0.2-15.4l0.2 14.4l0.2-14.4l0.3 10.6l0.2-10.6l0.2 17.2l0.2-17.1l0.2 21.7l0.2-23.5l0.2 12.4l0.2-10.5l0.2 11.3l0.2-11.3l0.3 10.6l0.2-10.6l0.2 10.6l0.2-10.5l0.2 12.7l0.2-12.7l0.2 21.7l0.2-21.7l0.2 15.5l0.2-15.4l0.3 33.7l0.2-35l0.2 12.5l0.2-11.2l0.2 10.6l0.2-10.5l0.2 11.4l0.2-11.4l0.2 14.2l0.2-14.2l0.3 19.6l0.2-19.5l0.2 12.5l0.2-12.5l0.2 12l0.2-11.9l0.2 10.5l0.2-10.5l0.2 10.6l0.2-10.6l0.3 12.5l0.2-13.4l0.2 21l0.2-20l0.2 13.6l0.2-13.6l0.2 12.4l0.2-12.3l0.2 10.5l0.2-10.5l0.3 21.2l0.2-21.2l0.2 14.6l0.2-14.5l0.2 23.3l0.2-23.3l0.2 10.8l0.2-12.4l0.2 22.7l0.2-21l0.3 10.5l0.2-10.5l0.2 10.6l0.2-10.5l0.2 10.5l0.2-10.5l0.2 10.6l0.2-10.6l0.2 10.6l0.2-10.5l0.3 19l0.2-19l0.2 10.6l0.2-10.6l0.2 21.2l0.2-21.1l0.2 22.8l0.2-22.8l0.2 10.6l0.2-10.6l0.3 19.1l0.2-19l0.2 17.4l0.2-17.4l0.2 23.3l0.2-23.3l0.2 18.3l0.2-19.6l0.2 13.7l0.2-12.3l0.3 20.7l0.2-21.3l0.2 16.1l0.2-15.4l0.2 11.8l0.2-13.3l0.2 12.1l0.2-10.5l0.2 10.5l0.2-10.5l0.3 10.6l0.2-10.6l0.2 19.5l0.2-19.4l0.2 21.4l0.2-21.4l0.2 21.7l0.2-21.7l0.2 12.2l0.2-12.1l0.3 10.5l0.2-11.5l0.2 19l0.2-18l0.2 11l0.2-11.6l0.2 11.2l0.2-10.5l0.2 18l0.2-17.9l0.3 10.5l0.2-10.5l0.2 20.7l0.2-20.7l0.2 22.5l0.2-22.4l0.2 17.7l0.2-17.7l0.2 16.1l0.2-16.1l0.3 10.6l0.2-10.5l0.2 10.5l0.2-10.5l0.2 13.4l0.2-13.4l0.2 16l0.2-15.9l0.2 10.5l0.2-10.5l0.3 15.6l0.2-15.6l0.2 10.6l0.2-10.5l0.2 12.1l0.2-12.1l0.2 12l0.2-11.9l0.2 14.3l0.2-14.3l0.3 10.6l0.2-10.6l0.2 10.6l0.2-10.5l0.2 10.5l0.2-10.5l0.2 20.2l0.2-20.2l0.2 12.3l0.2-12.2l0.3 21.5l0.2-21.5l0.2 10.6l0.2-10.6l0.2 36.9l0.2-36.8l0.2 10.5l0.2-10.5l0.2 22.7l0.2-22.7l0.3 10.6l0.2-10.5l0.2 10.5l0.2-10.5l0.2 11.8l0.2-11.7l0.2 23l0.2-23l0.2 10.6l0.2-10.6l0.3 14.3l0.2-14.2l0.2 11.7l0.2-11.7l0.2 23.7l0.2-23.7l0.2 18.5l0.2-19.8l0.2 16.1l0.2-14.7l0.3 12.9l0.2-12.9l0.2 10.6l0.2-10.5l0.2 19.2l0.2-19.2l0.2 10.6l0.2-10.6l0.2 17.3l0.2-18.5l0.3 11.8l0.2-10.5l0.2 20.4l0.2-20.3l0.2 20.4l0.2-20.4l0.2 13l0.2-13l0.2 21.8l0.2-21.7l0.3 10.5l0.2-10.5l0.2 18.3l0.2-18.3l0.2 10.6l0.2-10.5l0.2 18l0.2-18l0.2 10.6l0.2-10.6l0.3 10.6l0.2-10.5l0.2 14.7l0.2-14.7l0.2 10.6l0.2-10.6l0.2 11.5l0.2-11.4l0.2 10.5l0.2-10.5l0.3 47.3l0.2-47.2l0.2 21.9l0.2-21.9l0.2 15.7l0.2-15.7l0.2 10.6l0.2-10.5l0.2 13.7l0.2-13.7l0.3 10.6l0.2-10.6l0.2 10.6l0.2-10.5l0.2 23.1l0.2-23.1l0.2 10.7l0.2-10.7l0.2 10.6l0.2-10.5l0.3 10.5l0.2-10.5l0.2 14.4l0.2-14.4l0.2 20.8l0.2-20.7l0.2 10.5l0.2-10.5l0.2 10.7l0.2-10.6l0.3 20l0.2-20l0.2 10.6l0.2-10.6l0.2 12.2l0.2-12.1l0.2 14.3l0.2-15.2l0.2 11.5l0.2-11.3l0.3 15.5l0.2-14.7l0.2 11.2l0.2-11.2l0.2 20.1l0.2-20.1l0.2 23.1l0.2-23l0.2 20.1l0.2-20.1l0.3 10.6l0.2-10.6l0.2 23.1l0.2-23l0.2 10.5l0.2-10.5l0.2 15.2l0.2-15.1l0.2 19.9l0.2-19.9l0.3 15.7l0.2-15.7l0.2 14l0.2-13.9l0.2 10.5l0.2-10.5l0.2 10.6l0.2-11.5l0.2 24.8l0.2-23.8l0.3 14.7l0.2-14.7l0.2 22.5l0.2-22.5l0.2 10.6l0.2-11.4l0.2 11.4l0.2-10.5l0.2 10.6l0.2-11.6l0.3 14.7l0.2-13.6l0.2 12.8l0.2-12.8l0.2 21.8l0.2-21.7l0.2 16.8l0.2-17.5l0.2 17.9l0.2-18.6l0.3 15.3l0.2-15.6l0.2 18.3l0.2-16.5l0.2 10.6l0.2-10.6l0.2 20.3l0.2-20.2l0.2 10.5l0.2-11.5l0.3 11.6l0.2-10.6l0.2 13.3l0.2-13.2l0.2 16.7l0.2-17.6l0.2 19.1l0.2-18.2l0.2 20l0.2-19.9l0.3 19l0.2-19l0.2 20.5l0.2-21.8l0.2 16.9l0.2-15.5l0.2 21.2l0.2-21.2l0.2 23l0.2-22.9l0.3 11.5l0.2-11.5l0.2 16l0.2-16l0.2 14.7l0.2-14.6l0.2 13.1l0.2-13.1l0.2 22.8l0.2-22.8l0.3 10.6l0.2-10.5l0.2 10.5l0.2-10.5l0.2 10.6l0.2-11.5l0.2 11.5l0.2-10.5l0.2 11.4l0.2-11.4l0.3 10.6l0.2-10.5l0.2 13.4l0.2-13.4l0.2 15.2l0.2-15.2l0.2 14.1l0.2-15.2l0.2 21.9l0.2-20.7l0.3 21.3l0.2-21.3l0.2 20.3l0.2-20.2l0.2 10.5l0.2-11.9l0.2 23l0.2-21.6l0.2 10.6l0.2-10.5l0.3 10.5l0.2-10.5l0.2 12.2l0.2-12.2l0.2 10.6l0.2-10.5l0.2 14.6l0.2-14.6l0.2 10.6l0.2-10.5l0.3 10.5l0.2-12l0.2 21.1l0.2-19.6l0.2 13.8l0.2-13.7l0.2 10.7l0.2-10.7l0.2 23.8l0.2-23.8l0.3 10.6l0.2-10.5l0.2 22.3l0.2-22.3l0.2 15.2l0.2-15.2l0.2 15.2l0.2-15.1l0.2 23.7l0.2-24.9l0.3 20.8l0.2-19.6l0.2 12.4l0.2-12.3l0.2 22.8l0.2-22.8l0.2 10.6l0.2-10.5l0.2 10.5l0.2-10.5l0.3 10.6l0.2-10.6l0.2 11.8l0.2-11.7l0.2 18.3l0.2-18.3l0.2 10.6l0.2-11.6"/>
<path stroke="#00ff00" stroke-dasharray="2.3 3.5" d="M121.2 295.2l2-0.7l2-0.7l2-0.6l2-0.7l2-0.7l2-0.7l2-0.7l2-0.6l2-0.7l2-0.7l2-0.7l2-0.7l2-0.6l2-0.7l2-0.7l2-0.7l2-0.7l2-0.6l2-0.7l2-0.7l2-0.7l2-0.7l2-0.6l2-0.7l2-0.7l2-0.7l2-0.7l2-0.6l2-0.7l2-0.7l2-0.7l2-0.7l2-0.6l2-0.7l2-0.7l2-0.7l2-0.7l2-0.6l2-0.7l2-0.7l2-0.7l2-0.7l2-0.6l2-0.7l2-0.7l2-0.7l2-0.7l2-0.6l2-0.7l2-0.7l2-0.7l2-0.6l2-0.7l2-0.7l2-0.7l2-0.7l2-0.6l2-0.7l2-0.7l2-0.7l2-0.6l2-0.7l2-0.7l2-0.7l2-0.6l2-0.7l2-0.7l2-0.7l2-0.6l2-0.7l2-0.7l2-0.7l2-0.6l2-0.7l2-0.7l2-0.6l2-0.7l2-0.7l2-0.6l2-0.7l2-0.7l2-0.6l2-0.7l2-0.7l2-0.6l2-0.7l2-0.6l2-0.7l2-0.6l2-0.7l2-0.6l2-0.7l2-0.6l2-0.7l2-0.6l2-0.6l2-0.7l2-0.6l2-0.6l2-0.6l2-0.7l2-0.6l2-0.6l2-0.6l2-0.6l2-0.6l2-0.5l2-0.6l2-0.6l2-0.5l2-0.6l2-0.5l2-0.5l2-0.5l2-0.5l2-0.5l2-0.4l2-0.5l2-0.4l2-0.4l2-0.3l2-0.4l2-0.3l2-0.2l2-0.2l2-0.2l2-0.1l2-0.1l2 0.1"/>
<path stroke="#00ff00" stroke-dasharray="2.3 3.5" d="M379.2 215.7l2 0.1l3.2 0.6l2.7 0.8l2.2 1.2l1.6 1.5l1.4 1.9l0.9 2.2l0.7 2.8l0.4 3.3l0.3 4.4l0.1 12.5l0.2-12.3l0.2-4.5l0.4-3.4l0.6-3l0.9-2.4l1.3-2.3l1.6-1.8l2.1-1.6l2.5-1.4l3.1-1l3.2-0.2l2.5 0.4l2.1 0.9l1.6 1.3l1.3 1.8l0.9 2.2l0.6 2.8l0.4 3.3l0.2 4.4l0.2 11.4l0.1-9.5l0.1-4.4l0.3-3.4l0.4-3l0.6-2.4l0.9-2.2l1-1.7l1.4-1.5l1.7-1.3l2.1-0.7l2.1 0l1.7 0.5l1.4 1.1l1 1.4l0.9 1.9l0.6 2.2l0.4 2.9l0.2 3.3l0.2 4.4l0.1 12l0.1-10.7l0.1-4.5l0.2-3.3l0.3-3l0.5-2.4l0.6-2.1l0.8-1.7l1.1-1.5l1.3-1.1l1.5-0.7l1.6 0.1l1.3 0.6l1 1.2l0.8 1.4l0.7 1.9l0.4 2.3l0.4 2.8l0.2 3.4l0.1 4.4l0.1 10l0.1-12.4l0.2-5.2l0.5-4l0.7-3l1.1-2.3l1.4-1.6l1.2-0.6l1.3 0.1l1.4 1.1l1 2l0.8 2.7l0.4 3.9l0.3 5.1l0.1 18.1l0.1-17.3l0.2-5.1l0.4-4l0.6-3l0.9-2.3l1.2-1.5l1-0.6l1.1 0.2l1.2 1.1l0.9 2l0.6 2.8l0.4 3.8l0.2 5.2l0.1 10l0.1-9.3l0.2-5.2l0.3-4l0.5-3l0.8-2.3l1-1.5l0.9-0.5l0.9 0.2l1 1.1l0.8 2l0.5 2.9l0.4 3.8l0.1 5.2l0.1 9.6l0.1-9l0.2-5.2l0.3-4l0.4-3l0.7-2.2l0.9-1.5l0.8-0.5l0.8 0.2l0.9 1.2l0.7 2l0.4 2.8l0.3 3.9l0.2 5.1l0.1 13.1l0-12.5l0.2-5.2l0.3-4l0.4-2.9l0.6-2.3l0.8-1.4l0.7-0.5l0.7 0.2l0.8 1.2l0.6 2l0.4 2.8l0.3 3.9l0.1 5.2l0.1 28.1l0.1-27.7l0.1-5.1l0.2-4l0.4-3l0.5-2.2l0.8-1.4l0.6-0.5l0.7 0.2l0.7 1.2l0.5 2l0.4 2.9l0.2 3.9l0.2 5.1l0 15.9l0.2-19.9l0.3-5.2l0.5-3.7l0.8-2.2l0.7-0.6l0.7 0.4l0.8 1.8l0.5 3.5l0.3 5.2l0.2 13l0.1-12.6l0.3-5.3l0.5-3.6l0.7-2.2l0.7-0.6l0.6 0.4l0.7 1.9l0.5 3.5l0.3 5.2l0.1 20.1l0.2-19.8l0.2-5.3l0.5-3.6l0.6-2.1l0.6-0.7l0.7 0.4l0.6 1.9l0.5 3.5l0.2 5.2l0.2 12.7l0.1-12.3l0.2-5.3l0.4-3.7l0.6-2.1l0.6-0.7l0.6 0.5l0.6 1.9l0.4 3.5l0.3 5.2l0.1 17.9l0.1-17.6l0.2-5.3l0.4-3.6l0.6-2.1l0.5-0.7l0.6 0.5l0.5 1.9l0.4 3.5l0.2 5.2l0.1 17.8l0.1-17.5l0.3-5.3l0.3-3.6l0.5-2.1l0.6-0.7l0.5 0.5l0.5 1.9l0.4 3.5l0.2 5.2l0.1 10.9l0.1-10.6l0.2-5.3l0.3-3.6l0.5-2.1l0.5-0.6l0.5 0.4l0.5 1.9l0.3 3.6l0.2 5.2l0.1 10.8l0.1-10.6l0.2-5.2l0.3-3.7l0.5-2.1l0.5-0.6l0.4 0.5l0.5 1.9l0.3 3.5l0.2 5.2l0.1 11.6l0.1-11.3l0.2-5.3l0.3-3.6l0.4-2.1l0.5-0.6l0.4 0.4l0.4 2l0.4 3.5l0.1 5.2l0.1 13.9l0.1-13.7l0.2-5.2l0.3-3.7l0.4-2l0.4-0.7l0.4 0.5l0.4 1.9l0.3 3.6l0.2 5.2l0.1 20.3l0.1-20.1l0.1-5.3l0.3-3.6l0.4-2.1l0.4-0.6l0.4 0.5l0.4 1.9l0.3 3.6l0.1 5.2l0.1 14.3l0.1-14.1l0.2-5.3l0.2-3.6l0.4-2.1l0.4-0.6l0.4 0.5l0.3 1.9l0.3 3.6l0.2 5.2l0.1 13.3l0-13.1l0.2-5.3l0.2-3.6l0.4-2.1l0.4-0.6l0.3 0.5l0.4 1.9l0.3 3.6l0.1 5.2l0.1 23l0-22.8l0.2-5.3l0.2-3.6l0.4-2.1l0.3-0.6l0.4 0.5l0.3 1.9l0.3 3.6l0.1 5.2l0.1 9.3l0.1-9.1l0.1-5.3l0.2-3.6l0.4-2.1l0.3-0.6l0.3 0.5l0.4 2l0.2 3.5l0.1 5.2l0.1 13.3l0.1-16.4l0.3-5.6l0.7-2.7l0.6 2.5l0.3 5.5l0.2 16.2l0.1-16.1l0.3-5.6l0.6-2.6l0.6 2.4l0.3 5.5l0.1 17.9l0.1-17.8l0.3-5.5l0.6-2.7l0.6 2.5l0.3 5.4l0.1 15.5l0.1-15.3l0.3-5.6l0.6-2.6l0.5 2.4l0.3 5.5l0.1 17.3l0.1-17.2l0.3-5.5l0.6-2.7l0.5 2.5l0.3 5.4l0.1 16.9l0.1-16.7l0.3-5.6l0.5-2.6l0.5 2.4l0.3 5.5l0.1 15.3l0.1-15.2l0.2-5.5l0.6-2.7l0.5 2.5l0.2 5.5l0.1 16.4l0.1-16.3l0.3-5.6l0.5-2.6l0.5 2.5l0.2 5.4l0.1 15.7l0.1-15.5l0.3-5.6l0.5-2.6l0.4 2.4l0.3 5.5l0.1 17.7l0.1-17.6l0.2-5.5l0.5-2.7l0.5 2.5l0.2 5.5l0.1 15.7l0.1-15.6l0.2-5.5l0.5-2.7l0.4 2.5l0.2 5.5l0.1 13.4l0.1-13.3l0.2-5.6l0.5-2.6l0.4 2.5l0.2 5.5l0.1 15.3l0.1-15.2l0.2-5.6l0.5-2.6l0.4 2.5l0.2 5.5l0.1 12.4l0.1-12.3l0.2-5.6l0.4-2.6l0.5 2.5l0.2 5.5l0 19.8l0.1-19.7l0.2-5.6l0.4-2.6l0.5 2.5l0.2 5.5l0 13.7l0.1-13.6l0.2-5.6l0.4-2.6l0.4 2.5l0.2 5.5l0.1 14.6l0.1-14.5l0.2-5.6l0.4-2.6l0.4 2.5l0.2 5.5l0.1 14.1l0-14l0.2-5.6l0.4-2.6l0.4 2.5l0.2 5.5l0.1 11.6l0-11.5l0.2-5.6l0.4-2.6l0.4 2.5l0.2 5.5l0 13.1l0.1-13l0.2-5.6l0.4-2.6l0.3 2.5l0.2 5.5l0.1 13.7l0-13.6l0.2-5.6l0.4-2.6l0.4 2.5l0.1 5.5l0.1 15.7l0.1-15.6l0.1-5.5l0.4-2.7l0.4 2.5l0.1 5.5l0.1 11.6l0.1-11.5l0.1-5.5l0.4-2.6l0.3 2.5l0.2 5.4l0.1 11.1l0-11l0.2-5.5l0.3-2.6l0.4 2.5l0.1 5.5l0.1 11l0.1-11l0.1-5.5l0.4-2.6l0.3 2.5l0.2 5.5l0 10.5l0.1-10.4l0.1-5.6l0.4-2.6l0.3 2.5l0.2 5.5l0 12.1l0.1-12l0.1-5.5l0.4-2.7l0.3 2.6l0.1 5.4l0.1 10.4l0.1-10.3l0.1-5.5l0.3-2.6l0.4 2.5l0.1 5.5l0.1 10.9l0-10.9l0.2-5.5l0.3-2.6l0.3 2.5l0.1 5.5l0.1 18.1l0.1-18l0.1-5.6l0.3-2.6l0.3 2.5l0.2 5.5l0 11.6l0.1-11.5l0.1-5.5l0.3-2.6l0.3 2.5l0.2 5.5l0 15.5l0.2-19.7l0.3-3.9l0.4 3.8l0.1 13.4l0.2-13.4l0.3-3.9l0.3 3.8l0.2 13.4l0.1-13.4l0.4-3.8l0.3 3.7l0.1 15.4l0.2-15.3l0.3-3.9l0.3 3.8l0.2 19.8l0.1-19.8l0.3-3.8l0.4 3.7l0.1 13.6l0.1-13.5l0.4-3.9l0.3 3.8l0.1 17.4l0.1-17.4l0.4-3.8l0.3 3.7l0.1 20.6l0.1-20.5l0.3-3.9l0.4 3.8l0.1 13.3l0.1-13.3l0.3-3.9l0.3 3.8l0.1 12.9l0.2-12.8l0.3-3.9l0.3 3.8l0.1 13.3l0.1-13.3l0.3-3.9l0.3 3.8l0.1 18.5l0.2-18.4l0.3-3.9l0.2 3.8l0.2 19.7l0.1-19.7l0.3-3.8l0.3 3.7l0.1 16.3l0.1-16.2l0.3-3.9l0.3 3.8l0.1 15.1l0.1-15.1l0.3-3.8l0.3 3.7l0.1 20.6l0.1-20.5l0.3-3.9l0.2 3.8l0.2 19.3l0.1-19.3l0.3-3.8l0.2 3.7l0.1 15.1l0.2-15l0.2-3.9l0.3 3.8l0.1 12.3l0.1-12.3l0.3-3.8l0.2 3.8l0.1 14.4l0.2-14.4l0.2-3.8l0.3 3.7l0.1 20.3l0.1-20.2l0.3-3.9l0.2 3.8l0.1 16.6l0.1-16.6l0.3-3.8l0.2 3.7l0.1 22.3l0.2-22.2l0.2-3.9l0.3 3.8l0.1 14.8l0.1-14.8l0.2-3.8l0.3 3.8l0.1 12.1l0.1-12.1l0.2-3.8l0.3 3.7l0.1 20.9l0.1-20.8l0.2-3.9l0.2 3.8l0.1 10.6l0.1-10.6l0.3-3.8l0.2 3.8l0.1 18.5l0.1-18.5l0.3-3.8l0.2 3.7l0.1 12.3l0.1-12.2l0.2-3.9l0.3 3.8l0.1 14.9l0.1-14.9l0.2-3.8l0.2 3.8l0.1 20.4l0.1-20.4l0.2-3.8l0.3 3.7l0.1 11.1l0.1-11l0.2-3.9l0.2 3.8l0.1 11l0.1-11l0.2-3.8l0.2 3.8l0.1 10.5l0.1-10.5l0.2-3.8l0.3 3.8l0.1 11.8l0.1-11.8l0.2-3.8l0.2 3.7l0.1 16.2l0.1-16.1l0.2-3.9l0.2 3.8l0.1 13.2l0.1-13.2l0.2-3.8l0.2 3.8l0.1 14.7l0.1-14.7l0.2-3.8l0.2 3.8l0.1 9.9l0.1-9.9l0.2-3.9l0.2 3.8l0.1 15.3l0.1-15.2l0.2-3.9l0.2 3.8l0.1 9.6l0.1-9.6l0.2-3.8l0.2 3.8l0.1 12.7l0.1-12.7l0.2-3.8l0.2 3.8l0 17.7l0.1-17.7l0.2-3.8l0.2 3.7l0.1 16.3l0.1-16.2l0.2-3.9l0.2 3.8l0.1 19.7l0.1-19.7l0.2-3.8l0.1 3.8l0.1 13l0.1-13l0.2-3.8l0.2 3.8l0.1 15.7l0.1-15.7l0.2-3.8l0.2 3.7l0 10.1l0.1-10l0.2-3.9l0.2 3.8l0.1 16.4l0.1-16.3l0.1-3.9l0.2 3.8l0.1 9.1l0.1-9.1l0.2-3.8l0.2 3.8l0 11l0.1-11l0.2-3.8l0.2 3.8l0.1 9.1l0.1-9.1l0.1-3.8l0.2 3.7l0.1 9l0.1-8.9l0.2-3.9l0.1 3.8l0.1 12.5l0.1-12.4l0.2-3.9l0.1 3.8l0.1 9.4l0.1-9.4l0.2-3.8l0.2 3.8l0 11.3l0.1-11.3l0.2-3.8l0.2 3.8l0 13l0.1-13l0.2-3.8l0.2 3.8l0 10.7l0.1-10.7l0.2-3.8l0.2 3.7l0 11.4l0.1-11.3l0.2-3.9l0.2 3.8l0 13.9l0.1-13.8l0.2-3.9l0.1 3.8l0.1 12.9l0.1-12.9l0.2-3.8l0.1 3.8l0.1 12.8l0.1-12.8l0.1-3.8l0.2 3.8l0.1 8.1l0-8.1l0.2-3.8l0.2 3.8l0 8.7l0.1-8.7l0.2-3.8l0.1 3.7l0.3 7.9l0.2-11.7l0.2 13.8l0.2-13.8l0.2 10.6l0.2-11.6l0.2 14l0.2-13l0.2 14.6l0.2-14.6l0.3 10.5l0.2-10.5l0.2 10.5l0.2-10.5l0.2 21.4l0.2-21.4l0.2 10.5l0.2-10.5l0.2 21.5l0.2-21.6l0.3 10.6l0.2-10.6l0.2 10.6l0.2-10.6l0.2 16.3l0.2-16.3l0.2 24.2l0.2-24.2l0.2 10.5l0.2-10.5l0.3 10.5l0.2-10.5l0.2 10.6l0.2-10.6l0.2 10.5l0.2-10.5l0.2 13.6l0.2-13.7l0.2 13.6l0.2-13.6l0.3 23.1l0.2-23.1l0.2 10.6l0.2-10.6l0.2 10.6l0.2-10.6l0.2 14.4l0.2-15.8l0.2 11.9l0.2-10.5l0.3 22.7l0.2-22.7l0.2 24l0.2-24l0.2 10.5l0.2-10.5l0.2 22.1l0.2-22.1l0.2 10.9l0.2-11l0.3 14l0.2-14l0.2 23.8l0.2-23.8l0.2 16.4l0.2-16.4l0.2 10.6l0.2-10.6l0.2 21.2l0.2-21.2l0.3 12.3l0.2-12.3l0.2 21l0.2-21l0.2 16.7l0.2-16.7l0.2 10.5l0.2-10.5l0.2 18.7l0.2-18.7l0.3 10.5l0.2-10.5l0.2 16.7l0.2-16.7l0.2 10.5l0.2-10.5l0.2 10.5l0.2-10.6l0.2 14.8l0.2-14.8l0.3 24.3l0.2-24.3l0.2 15.8l0.2-15.8l0.2 14l0.2-14l0.2 10.9l0.2-10.9l0.2 20.7l0.2-20.7l0.3 10.6l0.2-12.3l0.2 14.7l0.2-13l0.2 10.5l0.2-10.5l0.2 22.6l0.2-22.6l0.2 10.5l0.2-10.5l0.3 17.2l0.2-17.2l0.2 10.7l0.2-10.7l0.2 22.8l0.2-22.8l0.2 10.5l0.2-10.5l0.2 10.5l0.2-10.5l0.3 10.5l0.2-10.5l0.2 10.5l0.2-10.5l0.2 24.4l0.2-24.4l0.2 10.5l0.2-10.5l0.2 14.4l0.2-14.5l0.3 14.8l0.2-14.8l0.2 13.6l0.2-13.6l0.2 57.9l0.2-57.9l0.2 25.1l0.2-25.1l0.2 10.6l0.2-10.6l0.3 20.9l0.2-22l0.2 23l0.2-21.9l0.2 10.6l0.2-10.6l0.2 11.5l0.2-11.5l0.2 10.6l0.2-10.6l0.3 15.5l0.2-15.5l0.2 13.2l0.2-13.2l0.2 11.4l0.2-11.4l0.2 17.1l0.2-17.1l0.2 25.5l0.2-25.5l0.3 20.6l0.2-22.1l0.2 15.1l0.2-14.8l0.2 19.2l0.2-18l0.2 10.6l0.2-10.6l0.2 26.1l0.2-26.1l0.3 10.5l0.2-10.5l0.2 21.3l0.2-21.3l0.2 10.5l0.2-10.5l0.2 11.8l0.2-11.8l0.2 11.2l0.2-11.2l0.3 12.3l0.2-12.3l0.2 10.5l0.2-10.5l0.2 15.2l0.2-15.2l0.2 24.4l0.2-24.4l0.2 10.5l0.2-12.2l0.3 12.2l0.2-11.5l0.2 11.5l0.2-10.5l0.2 22.3l0.2-22.3l0.2 25l0.2-25l0.2 10.5l0.2-10.5l0.3 10.5l0.2-11.5l0.2 11.5l0.2-10.5l0.2 10.5l0.2-10.5l0.2 19.9l0.2-19.9l0.2 10.5l0.2-10.5l0.3 10.7l0.2-10.7l0.2 14.2l0.2-14.2l0.2 16.2l0.2-16.2l0.2 25.5l0.2-25.5l0.2 23.8l0.2-23.8l0.3 13.8l0.2-13.8l0.2 15.5l0.2-15.5l0.2 21.9l0.2-21.9l0.2 18.8l0.2-18.8l0.2 10.6l0.2-10.6l0.3 11.2l0.2-11.2l0.2 10.6l0.2-10.6l0.2 22l0.2-22l0.2 17.2l0.2-17.2l0.2 23.3l0.2-23.3l0.3 18.6l0.2-18.6l0.2 17.7l0.2-17.7l0.2 10.6l0.2-10.6l0.2 15.8l0.2-16.4l0.2 18.6l0.2-18l0.3 11.8l0.2-11.8l0.2 19.2l0.2-19.2l0.2 10.8l0.2-10.8l0.2 10.6l0.2-11.7l0.2 13l0.2-11.8l0.3 10.5l0.2-10.5l0.2 23l0.2-23l0.2 15.1l0.2-16.9l0.2 12.3l0.2-10.5l0.2 16.9l0.2-16.9l0.3 22l0.2-22l0.2 10.5l0.2-10.5l0.2 10.5l0.2-10.5l0.2 16.6l0.2-16.6l0.2 23l0.2-23l0.3 26l0.2-26l0.2 10.5l0.2-10.5l0.2 10.5l0.2-10.5l0.2 10.5l0.2-10.5l0.2 10.6l0.2-10.6l0.3 18.5l0.2-18.5l0.2 20l0.2-20l0.2 13.6l0.2-13.6l0.2 17.9l0.2-17.9l0.2 18.8l0.2-18.8l0.3 12.7l0.2-12.7l0.2 12.9l0.2-12.9l0.2 11.1l0.2-11.1l0.2 17.7l0.2-17.6l0.2 14.2l0.2-14.2l0.3 10.5l0.2-10.5l0.2 13.6l0.2-13.6l0.2 14l0.2-14l0.2 11l0.2-11l0.2 10.5l0.2-10.5l0.3 23.2l0.2-23.2l0.2 14.8l0.2-14.8l0.2 10.5l0.2-10.5l0.2 10.5l0.2-10.5l0.2 11.2l0.2-11.2l0.3 10.6l0.2-10.6l0.2 15.2l0.2-15.2l0.2 24.3l0.2-24.3l0.2 18.1l0.2-18.1l0.2 10.6l0.2-10.6l0.3 17.8l0.2-17.8l0.2 15.6l0.2-16.1l0.2 11.1l0.2-10.5l0.2 11.5l0.2-11.5l0.2 10.5l0.2-10.5l0.3 18.1l0.2-18.1l0.2 18.8l0.2-18.8l0.2 19.9l0.2-19.9l0.2 18.5l0.2-18.5l0.2 21.3l0.2-22.3l0.3 11.6l0.2-10.6l0.2 10.6l0.2-10.6l0.2 13.4l0.2-13.4l0.2 15.2l0.2-15.2l0.2 10.6l0.2-10.6l0.3 13.5l0.2-13.4l0.2 23.8l0.2-25l0.2 15.4l0.2-14.2l0.2 17.4l0.2-17.4l0.2 14.4l0.2-14.4l0.3 12.4l0.2-12.4l0.2 10.6l0.2-10.6l0.2 10.6l0.2-10.6l0.2 11.7l0.2-11.7l0.2 13.6l0.2-13.6l0.3 17l0.2-16.9l0.2 10.5l0.2-10.5l0.2 10.5l0.2-10.5l0.2 12.3l0.2-12.3l0.2 11l0.2-11l0.3 10.5l0.2-10.5l0.2 22l0.2-22l0.2 34.1l0.2-34.1l0.2 10.6l0.2-10.6l0.2 10.6l0.2-10.5l0.3 10.5l0.2-11.4l0.2 13.4l0.2-12.5l0.2 18.3l0.2-18.3l0.2 10.5l0.2-11.7l0.2 26.6l0.2-26.3l0.3 11.5l0.2-10.6l0.2 11.5l0.2-11.4l0.2 10.5l0.2-10.5l0.2 10.5l0.2-10.5l0.2 10.5l0.2-12.2l0.3 12.3l0.2-10.6l0.2 13.9l0.2-13.9l0.2 15l0.2-14.9l0.2 16.6l0.2-16.6l0.2 15.1l0.2-15.1l0.3 10.5l0.2-10.5l0.2 10.6l0.2-10.6l0.2 11.4l0.2-11.3l0.2 19.5l0.2-19.5l0.2 19l0.2-19l0.3 12.2l0.2-13.9l0.2 12.3l0.2-10.6l0.2 14.8l0.2-14.7l0.2 12.2l0.2-13.4l0.2 15.1l0.2-13.9l0.3 24.7l0.2-24.7l0.2 23.7l0.2-23.6l0.2 10.5l0.2-11.6l0.2 18.8l0.2-17.7l0.2 10.6l0.2-10.5l0.3 10.5l0.2-10.5l0.2 10.5l0.2-10.5l0.2 20.2l0.2-21.9l0.2 12.3l0.2-10.5l0.2 10.5l0.2-10.5l0.3 12.1l0.2-12l0.2 20.3l0.2-20.3l0.2 14.4l0.2-14.4l0.2 12.9l0.2-12.8l0.2 10.5l0.2-10.5l0.3 13.4l0.2-13.4l0.2 24.3l0.2-24.2l0.2 10.6l0.2-10.6l0.2 11.2l0.2-11.1l0.2 19l0.2-19l0.3 17.7l0.2-17.6l0.2 10.8l0.2-10.8l0.2 10.6l0.2-10.5l0.2 10.6l0.2-10.6l0.2 11.8l0.2-11.7l0.3 12.3l0.2-12.3l0.2 10.6l0.2-10.5l0.2 17.7l0.2-17.6l0.2 16.9l0.2-16.9l0.2 10.6l0.2-10.5l0.3 10.6l0.2-10.5l0.2 14.8l0.2-14.8l0.2 33.2l0.2-33.1l0.2 24l0.2-23.9l0.2 25.8l0.2-27l0.3 20.9l0.2-19.6l0.2 14.3l0.2-14.2l0.2 16.7l0.2-16.6l0.2 20.1l0.2-20.1l0.2 11.2l0.2-11.1l0.3 23.3l0.2-23.2l0.2 15.4l0.2-15.3l0.2 10.6l0.2-10.5l0.2 16.3l0.2-16.2l0.2 10.6l0.2-10.5l0.3 11.5l0.2-11.4l0.2 17.3l0.2-17.2l0.2 23.2l0.2-23.1l0.2 10.6l0.2-10.5l0.2 10.6l0.2-10.5l0.3 30.1l0.2-31.1l0.2 15.8l0.2-14.6l0.2 10.6l0.2-10.5l0.2 10.6l0.2-10.5l0.2 10.6l0.2-10.5l0.3 14.9l0.2-14.8l0.2 11.8l0.2-11.7l0.2 14.9l0.2-14.7l0.2 18.5l0.2-18.4l0.2 21.7l0.2-21.6l0.3 17.1l0.2-17l0.2 17.3l0.2-17.1l0.2 13.6l0.2-13.5l0.2 26.5l0.2-26.4l0.2 34.5l0.2-34.3l0.3 20.8l0.2-20.7l0.2 12.9l0.2-12.8l0.2 47.5l0.2-47.3l0.2 29.2l0.2-29.1l0.2 19.7l0.2-19.5l0.3 12.9l0.2-12.8l0.2 34.7l0.2-34.5l0.2 42.9l0.2-42.8l0.2 18.4l0.2-18.2l0.2 35.3l0.2-35.2l0.3 12.4l0.2-12.2l0.2 13.1l0.2-13l0.2 34.5l0.2-34.3l0.2 32.2l0.2-32.1l0.2 10.7l0.2-10.5l0.3 15.4l0.2-15.2l0.2 10.6l0.2-10.5l0.2 16.8l0.2-16.6l0.2 11.7l0.2-11.5l0.2 10.6l0.2-10.5l0.3 31.6l0.2-31.4l0.2 17.3l0.2-17.1l0.2 21.3l0.2-21.2l0.2 43.5l0.2-43.3l0.2 41.3l0.2-41.1l0.3 25.7l0.2-25.5l0.2 23.5l0.2-23.4l0.2 16.4l0.2-16.2l0.2 11.9l0.2-11.7l0.2 15l0.2-16.5l0.3 30.1l0.2-28.3l0.2 10.7l0.2-10.5l0.2 10.7l0.2-10.5l0.2 13.4l0.2-13.2l0.2 22.7l0.2-22.5l0.3 33.4l0.2-33.3l0.2 10.7l0.2-10.5l0.2 24.6l0.2-24.4l0.2 28.3l0.2-28.1l0.2 26.1l0.2-25.9l0.3 33.2l0.2-33l0.2 25l0.2-26.4l0 12.1l0.3-11.4"/>
<path fill="#ff00ff" stroke="none" d="M570 198.5l5-0.4l5-0.3l5-0.4l5-0.3l5-0.3l5-0.3l1.1-0.1l1-2.2l1 2.2l1.9-0.2l5-0.2l5-0.3l1.1-0.1l1-1.2l1 1.2l1.9-0.1l5-0.2l5-0.2l0.4 0l1-1.3l1 1.3l2.6-0.1l5-0.2l5-0.1l2 0l1-1.1l1 1.1l1 0l5-0.1l-0.2 0l1-2.1l1 2.1l3.2-0.1l0.4 0l1-2.2l1 2.2l2.6 0l5 0l2.5 0l1-1.7l1 1.7l0.5 0l5 0l2.4 0l1-1.8l1 1.8l0.6 0l5 0.1l5 0l0.8 0l1-1.1l1 1.1l2.2 0.1l0 0l1-1.3l1 1.3l3 0l5 0.1l1.7 0l1-1.4l1 1.4l1.3 0.1l2.1 0l1-1.6l1 1.6l0.9 0l1.1 0.1l1-1.9l1 1.9l1.9 0l2.5 0.1l1-1l1 1l0.5 0l5 0.1l5 0l2 0.1l1-1.4l1 1.4l1 0l5 0.1l-0.1 0l1-1.1l1 1.1l3.1 0.1l5 0.1l1.9 0l1-2.2l1 2.2l1.1 0.1l5 0.1l0.8 0l1-1.6l1 1.6l2 0l0 14.4l-4.8 0l-5-0.1l-5-0.1l-5-0.1l-5-0.1l-5-0.1l-5-0.1l-5 0l-5-0.1l-5-0.1l-5-0.1l-5 0l-5-0.1l-5-0.1l-5 0l-5-0.1l-5 0l-5-0.1l-5 0l-5 0l-5 0l-5 0l-5 0l-5 0.1l-5 0.1l-5 0l-5 0.1l-5 0.2l-5 0.1l-5 0.2l-5 0.2l-5 0.2l-5 0.3l-5-1.4l-5-1.4l-5-1.3l-5-1.3l-5-1.3l-5-1.3l-5-1.2l-5-1.3Z"/>
<path stroke="#ff00ff" stroke-dasharray="1.7 0.6" d="M121.2 295.2l2-0.7l2-0.7l2-0.6l2-0.7l2-0.7l2-0.7l2-0.7l2-0.6l2-0.7l2-0.7l2-0.7l2-0.7l2-0.6l2-0.7l2-0.7l2-0.7l2-0.7l2-0.6l2-0.7l2-0.7l2-0.7l2-0.7l2-0.6l2-0.7l2-0.7l2-0.7l2-0.7l2-0.6l2-0.7l2-0.7l2-0.7l2-0.7l2-0.6l2-0.7l2-0.7l2-0.7l2-0.7l2-0.6l2-0.7l2-0.7l2-0.7l2-0.7l2-0.6l2-0.7l2-0.7l2-0.7l2-0.7l2-0.6l2-0.7l2-0.7l2-0.7l2-0.6l2-0.7l2-0.7l2-0.7l2-0.7l2-0.6l2-0.7l2-0.7l2-0.7l2-0.6l2-0.7l2-0.7l2-0.7l2-0.6l2-0.7l2-0.7l2-0.7l2-0.6l2-0.7l2-0.7l2-0.7l2-0.6l2-0.7l2-0.7l2-0.6l2-0.7l2-0.7l2-0.6l2-0.7l2-0.7l2-0.6l2-0.7l2-0.7l2-0.6l2-0.7l2-0.6l2-0.7l2-0.6l2-0.7l2-0.6l2-0.7l2-0.6l2-0.7l2-0.6l2-0.6l2-0.7l2-0.6l2-0.6l2-0.6l2-0.7l2-0.6l2-0.6l2-0.6l2-0.6l2-0.6l2-0.5l2-0.6l2-0.6l2-0.5l2-0.6l2-0.5l2-0.5l2-0.5l2-0.5l2-0.5l2-0.4l2-0.5l2-0.4l2-0.4l2-0.3l2-0.4l2-0.3l2-0.2l2-0.2l2-0.2l2-0.1l2-0.1l2 0.1"/>
<path stroke="#ff00ff" stroke-dasharray="1.3 1" d="M379.2 215.7l2 0.1l3.2 0.6l2.7 0.8l2.2 1.2l1.6 1.5l1.4 1.9l0.9 2.2l0.7 2.8l0.4 3.3l0.3 4.4l0.1 12.5l0.2-12.3l0.2-4.5l0.4-3.4l0.6-3l0.9-2.4l1.3-2.3l1.6-1.8l2.1-1.6l2.5-1.4l3.1-1l3.2-0.2l2.5 0.4l2.1 0.9l1.6 1.3l1.3 1.8l0.9 2.2l0.6 2.8l0.4 3.3l0.2 4.4l0.2 11.4l0.1-9.5l0.1-4.4l0.3-3.4l0.4-3l0.6-2.4l0.9-2.2l1-1.7l1.4-1.5l1.7-1.3l2.1-0.7l2.1 0l1.7 0.5l1.4 1.1l1 1.4l0.9 1.9l0.6 2.2l0.4 2.9l0.2 3.3l0.2 4.4l0.1 12l0.1-10.7l0.1-4.5l0.2-3.3l0.3-3l0.5-2.4l0.6-2.1l0.8-1.7l1.1-1.5l1.3-1.1l1.5-0.7l1.6 0.1l1.3 0.6l1 1.2l0.8 1.4l0.7 1.9l0.4 2.3l0.4 2.8l0.2 3.4l0.1 4.4l0.1 10l0.1-12.4l0.2-5.2l0.5-4l0.7-3l1.1-2.3l1.4-1.6l1.2-0.6l1.3 0.1l1.4 1.1l1 2l0.8 2.7l0.4 3.9l0.3 5.1l0.1 18.1l0.1-17.3l0.2-5.1l0.4-4l0.6-3l0.9-2.3l1.2-1.5l1-0.6l1.1 0.2l1.2 1.1l0.9 2l0.6 2.8l0.4 3.8l0.2 5.2l0.1 10l0.1-9.3l0.2-5.2l0.3-4l0.5-3l0.8-2.3l1-1.5l0.9-0.5l0.9 0.2l1 1.1l0.8 2l0.5 2.9l0.4 3.8l0.1 5.2l0.1 9.6l0.1-9l0.2-5.2l0.3-4l0.4-3l0.7-2.2l0.9-1.5l0.8-0.5l0.8 0.2l0.9 1.2l0.7 2l0.4 2.8l0.3 3.9l0.2 5.1l0.1 13.1l0-12.5l0.2-5.2l0.3-4l0.4-2.9l0.6-2.3l0.8-1.4l0.7-0.5l0.7 0.2l0.8 1.2l0.6 2l0.4 2.8l0.3 3.9l0.1 5.2l0.1 28.1l0.1-27.7l0.1-5.1l0.2-4l0.4-3l0.5-2.2l0.8-1.4l0.6-0.5l0.7 0.2l0.7 1.2l0.5 2l0.4 2.9l0.2 3.9l0.2 5.1l0 15.9l0.2-19.9l0.3-5.2l0.5-3.7l0.8-2.2l0.7-0.6l0.7 0.4l0.8 1.8l0.5 3.5l0.3 5.2l0.2 13l0.1-12.6l0.3-5.3l0.5-3.6l0.7-2.2l0.7-0.6l0.6 0.4l0.7 1.9l0.5 3.5l0.3 5.2l0.1 20.1l0.2-19.8l0.2-5.3l0.5-3.6l0.6-2.1l0.6-0.7l0.7 0.4l0.6 1.9l0.5 3.5l0.2 5.2l0.2 12.7l0.1-12.3l0.2-5.3l0.4-3.7l0.6-2.1l0.6-0.7l0.6 0.5l0.6 1.9l0.4 3.5l0.3 5.2l0.1 17.9l0.1-17.6l0.2-5.3l0.4-3.6l0.6-2.1l0.5-0.7l0.6 0.5l0.5 1.9l0.4 3.5l0.2 5.2l0.1 17.8l0.1-17.5l0.3-5.3l0.3-3.6l0.5-2.1l0.6-0.7l0.5 0.5l0.5 1.9l0.4 3.5l0.2 5.2l0.1 10.9l0.1-10.6l0.2-5.3l0.3-3.6l0.5-2.1l0.5-0.6l0.5 0.4l0.5 1.9l0.3 3.6l0.2 5.2l0.1 10.8l0.1-10.6l0.2-5.2l0.3-3.7l0.5-2.1l0.5-0.6l0.4 0.5l0.5 1.9l0.3 3.5l0.2 5.2l0.1 11.6l0.1-11.3l0.2-5.3l0.3-3.6l0.4-2.1l0.5-0.6l0.4 0.4l0.4 2l0.4 3.5l0.1 5.2l0.1 13.9l0.1-13.7l0.2-5.2l0.3-3.7l0.4-2l0.4-0.7l0.4 0.5l0.4 1.9l0.3 3.6l0.2 5.2l0.1 20.3l0.1-20.1l0.1-5.3l0.3-3.6l0.4-2.1l0.4-0.6l0.4 0.5l0.4 1.9l0.3 3.6l0.1 5.2l0.1 14.3l0.1-14.1l0.2-5.3l0.2-3.6l0.4-2.1l0.4-0.6l0.4 0.5l0.3 1.9l0.3 3.6l0.2 5.2l0.1 13.3l0-13.1l0.2-5.3l0.2-3.6l0.4-2.1l0.4-0.6l0.3 0.5l0.4 1.9l0.3 3.6l0.1 5.2l0.1 23l0-22.8l0.2-5.3l0.2-3.6l0.4-2.1l0.3-0.6l0.4 0.5l0.3 1.9l0.3 3.6l0.1 5.2l0.1 9.3l0.1-9.1l0.1-5.3l0.2-3.6l0.4-2.1l0.3-0.6l0.3 0.5l0.4 2l0.2 3.5l0.1 5.2l0.1 13.3l0.1-16.4l0.3-5.6l0.7-2.7l0.6 2.5l0.3 5.5l0.2 16.2l0.1-16.1l0.3-5.6l0.6-2.6l0.6 2.4l0.3 5.5l0.1 17.9l0.1-17.8l0.3-5.5l0.6-2.7l0.6 2.5l0.3 5.4l0.1 15.5l0.1-15.3l0.3-5.6l0.6-2.6l0.5 2.4l0.3 5.5l0.1 17.3l0.1-17.2l0.3-5.5l0.6-2.7l0.5 2.5l0.3 5.4l0.1 16.9l0.1-16.7l0.3-5.6l0.5-2.6l0.5 2.4l0.3 5.5l0.1 15.3l0.1-15.2l0.2-5.5l0.6-2.7l0.5 2.5l0.2 5.5l0.1 16.4l0.1-16.3l0.3-5.6l0.5-2.6l0.5 2.5l0.2 5.4l0.1 15.7l0.1-15.5l0.3-5.6l0.5-2.6l0.4 2.4l0.3 5.5l0.1 17.7l0.1-17.6l0.2-5.5l0.5-2.7l0.5 2.5l0.2 5.5l0.1 15.7l0.1-15.6l0.2-5.5l0.5-2.7l0.4 2.5l0.2 5.5l0.1 13.4l0.1-13.3l0.2-5.6l0.5-2.6l0.4 2.5l0.2 5.5l0.1 15.3l0.1-15.2l0.2-5.6l0.5-2.6l0.4 2.5l0.2 5.5l0.1 12.4l0.1-12.3l0.2-5.6l0.4-2.6l0.5 2.5l0.2 5.5l0 19.8l0.1-19.7l0.2-5.6l0.4-2.6l0.5 2.5l0.2 5.5l0 13.7l0.1-13.6l0.2-5.6l0.4-2.6l0.4 2.5l0.2 5.5l0.1 14.6l0.1-14.5l0.2-5.6l0.4-2.6l0.4 2.5l0.2 5.5l0.1 14.1l0-14l0.2-5.6l0.4-2.6l0.4 2.5l0.2 5.5l0.1 11.6l0-11.5l0.2-5.6l0.4-2.6l0.4 2.5l0.2 5.5l0 13.1l0.1-13l0.2-5.6l0.4-2.6l0.3 2.5l0.2 5.5l0.1 13.7l0-13.6l0.2-5.6l0.4-2.6l0.4 2.5l0.1 5.5l0.1 15.7l0.1-15.6l0.1-5.5l0.4-2.7l0.4 2.5l0.1 5.5l0.1 11.6l0.1-11.5l0.1-5.5l0.4-2.6l0.3 2.5l0.2 5.4l0.1 11.1l0-11l0.2-5.5l0.3-2.6l0.4 2.5l0.1 5.5l0.1 11l0.1-11l0.1-5.5l0.4-2.6l0.3 2.5l0.2 5.5l0 10.5l0.1-10.4l0.1-5.6l0.4-2.6l0.3 2.5l0.2 5.5l0 12.1l0.1-12l0.1-5.5l0.4-2.7l0.3 2.6l0.1 5.4l0.1 10.4l0.1-10.3l0.1-5.5l0.3-2.6l0.4 2.5l0.1 5.5l0.1 10.9l0-10.9l0.2-5.5l0.3-2.6l0.3 2.5l0.1 5.5l0.1 18.1l0.1-18l0.1-5.6l0.3-2.6l0.3 2.5l0.2 5.5l0 11.6l0.1-11.5l0.1-5.5l0.3-2.6l0.3 2.5l0.2 5.5l0 15.5l0.2-19.7l0.3-3.9l0.4 3.8l0.1 13.4l0.2-13.4l0.3-3.9l0.3 3.8l0.2 13.4l0.1-13.4l0.4-3.8l0.3 3.7l0.1 15.4l0.2-15.3l0.3-3.9l0.3 3.8l0.2 19.8l0.1-19.8l0.3-3.8l0.4 3.7l0.1 13.6l0.1-13.5l0.4-3.9l0.3 3.8l0.1 17.4l0.1-17.4l0.4-3.8l0.3 3.7l0.1 20.6l0.1-20.5l0.3-3.9l0.4 3.8l0.1 13.3l0.1-13.3l0.3-3.9l0.3 3.8l0.1 12.9l0.2-12.8l0.3-3.9l0.3 3.8l0.1 13.3l0.1-13.3l0.3-3.9l0.3 3.8l0.1 18.5l0.2-18.4l0.3-3.9l0.2 3.8l0.2 19.7l0.1-19.7l0.3-3.8l0.3 3.7l0.1 16.3l0.1-16.2l0.3-3.9l0.3 3.8l0.1 15.1l0.1-15.1l0.3-3.8l0.3 3.7l0.1 20.6l0.1-20.5l0.3-3.9l0.2 3.8l0.2 19.3l0.1-19.3l0.3-3.8l0.2 3.7l0.1 15.1l0.2-15l0.2-3.9l0.3 3.8l0.1 12.3l0.1-12.3l0.3-3.8l0.2 3.8l0.1 14.4l0.2-14.4l0.2-3.8l0.3 3.7l0.1 20.3l0.1-20.2l0.3-3.9l0.2 3.8l0.1 16.6l0.1-16.6l0.3-3.8l0.2 3.7l0.1 22.3l0.2-22.2l0.2-3.9l0.3 3.8l0.1 14.8l0.1-14.8l0.2-3.8l0.3 3.8l0.1 12.1l0.1-12.1l0.2-3.8l0.3 3.7l0.1 20.9l0.1-20.8l0.2-3.9l0.2 3.8l0.1 10.6l0.1-10.6l0.3-3.8l0.2 3.8l0.1 18.5l0.1-18.5l0.3-3.8l0.2 3.7l0.1 12.3l0.1-12.2l0.2-3.9l0.3 3.8l0.1 14.9l0.1-14.9l0.2-3.8l0.2 3.8l0.1 20.4l0.1-20.4l0.2-3.8l0.3 3.7l0.1 11.1l0.1-11l0.2-3.9l0.2 3.8l0.1 11l0.1-11l0.2-3.8l0.2 3.8l0.1 10.5l0.1-10.5l0.2-3.8l0.3 3.8l0.1 11.8l0.1-11.8l0.2-3.8l0.2 3.7l0.1 16.2l0.1-16.1l0.2-3.9l0.2 3.8l0.1 13.2l0.1-13.2l0.2-3.8l0.2 3.8l0.1 14.7l0.1-14.7l0.2-3.8l0.2 3.8l0.1 9.9l0.1-9.9l0.2-3.9l0.2 3.8l0.1 15.3l0.1-15.2l0.2-3.9l0.2 3.8l0.1 9.6l0.1-9.6l0.2-3.8l0.2 3.8l0.1 12.7l0.1-12.7l0.2-3.8l0.2 3.8l0 17.7l0.1-17.7l0.2-3.8l0.2 3.7l0.1 16.3l0.1-16.2l0.2-3.9l0.2 3.8l0.1 19.7l0.1-19.7l0.2-3.8l0.1 3.8l0.1 13l0.1-13l0.2-3.8l0.2 3.8l0.1 15.7l0.1-15.7l0.2-3.8l0.2 3.7l0 10.1l0.1-10l0.2-3.9l0.2 3.8l0.1 16.4l0.1-16.3l0.1-3.9l0.2 3.8l0.1 9.1l0.1-9.1l0.2-3.8l0.2 3.8l0 11l0.1-11l0.2-3.8l0.2 3.8l0.1 9.1l0.1-9.1l0.1-3.8l0.2 3.7l0.1 9l0.1-8.9l0.2-3.9l0.1 3.8l0.1 12.5l0.1-12.4l0.2-3.9l0.1 3.8l0.1 9.4l0.1-9.4l0.2-3.8l0.2 3.8l0 11.3l0.1-11.3l0.2-3.8l0.2 3.8l0 13l0.1-13l0.2-3.8l0.2 3.8l0 10.7l0.1-10.7l0.2-3.8l0.2 3.7l0 11.4l0.1-11.3l0.2-3.9l0.2 3.8l0 13.9l0.1-13.8l0.2-3.9l0.1 3.8l0.1 12.9l0.1-12.9l0.2-3.8l0.1 3.8l0.1 12.8l0.1-12.8l0.1-3.8l0.2 3.8l0.1 8.1l0-8.1l0.2-3.8l0.2 3.8l0 8.7l0.1-8.7l0.2-3.8l0.1 3.7l0.3 7.9l0.2-11.7l0.2 13.8l0.2-13.8l0.2 10.6l0.2-11.6l0.2 14l0.2-13l0.2 14.6l0.2-14.6l0.3 10.5l0.2-10.5l0.2 10.5l0.2-10.5l0.2 21.4l0.2-21.4l0.2 10.5l0.2-10.5l0.2 21.5l0.2-21.6l0.3 10.6l0.2-10.6l0.2 10.6l0.2-10.6l0.2 16.3l0.2-16.3l0.2 24.2l0.2-24.2l0.2 10.5l0.2-10.5l0.3 10.5l0.2-10.5l0.2 10.6l0.2-10.6l0.2 10.5l0.2-10.5l0.2 13.6l0.2-13.7l0.2 13.6l0.2-13.6l0.3 23.1l0.2-23.1l0.2 10.6l0.2-10.6l0.2 10.6l0.2-10.6l0.2 14.4l0.2-15.8l0.2 11.9l0.2-10.5l0.3 22.7l0.2-22.7l0.2 24l0.2-24l0.2 10.5l0.2-10.5l0.2 22.1l0.2-22.1l0.2 10.9l0.2-11l0.3 14l0.2-14l0.2 23.8l0.2-23.8l0.2 16.4l0.2-16.4l0.2 10.6l0.2-10.6l0.2 21.2l0.2-21.2l0.3 12.3l0.2-12.3l0.2 21l0.2-21l0.2 16.7l0.2-16.7l0.2 10.5l0.2-10.5l0.2 18.7l0.2-18.7l0.3 10.5l0.2-10.5l0.2 16.7l0.2-16.7l0.2 10.5l0.2-10.5l0.2 10.5l0.2-10.6l0.2 14.8l0.2-14.8l0.3 24.3l0.2-24.3l0.2 15.8l0.2-15.8l0.2 14l0.2-14l0.2 10.9l0.2-10.9l0.2 20.7l0.2-20.7l0.3 10.6l0.2-12.3l0.2 14.7l0.2-13l0.2 10.5l0.2-10.5l0.2 22.6l0.2-22.6l0.2 10.5l0.2-10.5l0.3 17.2l0.2-17.2l0.2 10.7l0.2-10.7l0.2 22.8l0.2-22.8l0.2 10.5l0.2-10.5l0.2 10.5l0.2-10.5l0.3 10.5l0.2-10.5l0.2 10.5l0.2-10.5l0.2 24.4l0.2-24.4l0.2 10.5l0.2-10.5l0.2 14.4l0.2-14.5l0.3 14.8l0.2-14.8l0.2 13.6l0.2-13.6l0.2 19.6l0.2-19.6l0.2 25.1l0.2-25.1l0.2 10.6l0.2-10.6l0.3 20.9l0.2-22l0.2 23l0.2-21.9l0.2 10.6l0.2-10.6l0.2 11.5l0.2-11.5l0.2 10.6l0.2-10.6l0.3 15.5l0.2-15.5l0.2 13.2l0.2-13.2l0.2 11.4l0.2-11.4l0.2 17.1l0.2-17.1l0.2 25.5l0.2-25.5l0.3 20.6l0.2-22.1l0.2 15.1l0.2-14.8l0.2 19.2l0.2-18l0.2 10.5l0.2-10.5l0.2 26.1l0.2-26.1l0.3 10.5l0.2-10.5l0.2 21.3l0.2-21.3l0.2 10.5l0.2-10.5l0.2 11.8l0.2-11.8l0.2 11.2l0.2-11.2l0.3 12.3l0.2-12.3l0.2 10.5l0.2-10.5l0.2 15.2l0.2-15.2l0.2 24.4l0.2-24.4l0.2 10.5l0.2-12.2l0.3 12.2l0.2-11.5l0.2 11.5l0.2-10.5l0.2 22.3l0.2-22.3l0.2 25l0.2-25l0.2 10.5l0.2-10.5l0.3 10.5l0.2-11.5l0.2 11.5l0.2-10.5l0.2 10.5l0.2-10.5l0.2 19.9l0.2-19.9l0.2 10.5l0.2-10.5l0.3 10.7l0.2-10.7l0.2 14.2l0.2-14.2l0.2 16.2l0.2-16.2l0.2 25.5l0.2-25.5l0.2 23.8l0.2-23.8l0.3 13.8l0.2-13.8l0.2 15.5l0.2-15.5l0.2 21.9l0.2-21.9l0.2 18.8l0.2-18.8l0.2 10.6l0.2-10.6l0.3 11.2l0.2-11.2l0.2 10.6l0.2-10.6l0.2 22l0.2-22l0.2 17.1l0.2-17.1l0.2 23.3l0.2-23.3l0.3 18.6l0.2-18.6l0.2 17.7l0.2-17.7l0.2 10.6l0.2-10.6l0.2 15.8l0.2-16.4l0.2 18.5l0.2-17.9l0.3 11.8l0.2-11.8l0.2 19.2l0.2-19.2l0.2 10.8l0.2-10.8l0.2 10.6l0.2-11.7l0.2 13l0.2-11.9l0.3 10.6l0.2-10.5l0.2 23l0.2-23l0.2 15.1l0.2-16.9l0.2 12.3l0.2-10.5l0.2 16.9l0.2-16.9l0.3 22l0.2-22l0.2 10.5l0.2-10.5l0.2 10.5l0.2-10.5l0.2 27l0.2-27l0.2 23l0.2-23l0.3 26l0.2-26l0.2 10.5l0.2-10.5l0.2 10.5l0.2-10.5l0.2 10.5l0.2-10.5l0.2 10.5l0.2-10.5l0.3 18.5l0.2-18.5l0.2 20l0.2-20l0.2 13.6l0.2-13.6l0.2 17.9l0.2-17.9l0.2 18.7l0.2-18.7l0.3 12.7l0.2-12.7l0.2 12.9l0.2-12.9l0.2 11.1l0.2-11.1l0.2 17.6l0.2-17.6l0.2 14.3l0.2-14.3l0.3 10.6l0.2-10.6l0.2 13.7l0.2-13.7l0.2 14l0.2-13.9l0.2 11l0.2-11l0.2 10.5l0.2-10.5l0.3 23.2l0.2-23.2l0.2 14.8l0.2-14.8l0.2 10.5l0.2-10.5l0.2 10.5l0.2-10.5l0.2 11.2l0.2-11.2l0.3 10.5l0.2-10.5l0.2 15.2l0.2-15.2l0.2 24.3l0.2-24.3l0.2 18.1l0.2-18.1l0.2 10.5l0.2-10.5l0.3 17.7l0.2-17.7l0.2 15.5l0.2-16.1l0.2 11.2l0.2-10.6l0.2 11.6l0.2-11.6l0.2 10.6l0.2-10.6l0.3 18.1l0.2-18.1l0.2 18.9l0.2-18.9l0.2 19.9l0.2-19.9l0.2 18.6l0.2-18.5l0.2 21.3l0.2-22.4l0.3 11.6l0.2-10.5l0.2 10.5l0.2-10.5l0.2 13.4l0.2-13.4l0.2 15.2l0.2-15.2l0.2 10.5l0.2-10.5l0.3 13.4l0.2-13.4l0.2 23.9l0.2-25.1l0.2 15.5l0.2-14.3l0.2 17.4l0.2-17.4l0.2 14.4l0.2-14.4l0.3 12.4l0.2-12.4l0.2 10.6l0.2-10.6l0.2 10.6l0.2-10.6l0.2 11.7l0.2-11.7l0.2 13.6l0.2-13.6l0.3 17l0.2-17l0.2 10.6l0.2-10.5l0.2 10.5l0.2-10.5l0.2 12.3l0.2-12.3l0.2 10.9l0.2-10.9l0.3 10.5l0.2-10.5l0.2 22l0.2-22l0.2 10.5l0.2-10.5l0.2 10.5l0.2-10.5l0.2 10.5l0.2-10.5l0.3 10.5l0.2-11.3l0.2 13.4l0.2-12.6l0.2 18.4l0.2-18.4l0.2 10.6l0.2-11.8l0.2 26.6l0.2-26.3l0.3 11.5l0.2-10.6l0.2 11.5l0.2-11.5l0.2 10.6l0.2-10.6l0.2 10.6l0.2-10.5l0.2 10.5l0.2-12.2l0.3 12.2l0.2-10.5l0.2 13.8l0.2-13.8l0.2 14.9l0.2-14.9l0.2 16.6l0.2-16.6l0.2 15.1l0.2-15.1l0.3 10.5l0.2-10.5l0.2 10.5l0.2-10.5l0.2 11.4l0.2-11.4l0.2 19.6l0.2-19.6l0.2 19l0.2-19l0.3 20.6l0.2-22.3l0.2 12.3l0.2-10.6l0.2 14.8l0.2-14.8l0.2 12.3l0.2-13.4l0.2 15l0.2-13.8l0.3 24.7l0.2-24.7l0.2 23.6l0.2-23.6l0.2 10.5l0.2-11.7l0.2 18.9l0.2-17.7l0.2 10.5l0.2-10.5l0.3 10.5l0.2-10.5l0.2 10.5l0.2-10.5l0.2 20.2l0.2-21.9l0.2 12.3l0.2-10.6l0.2 10.6l0.2-10.6l0.3 12.1l0.2-12.1l0.2 20.3l0.2-20.3l0.2 14.5l0.2-14.5l0.2 12.9l0.2-12.8l0.2 10.5l0.2-10.5l0.3 13.4l0.2-13.4l0.2 24.2l0.2-24.2l0.2 10.5l0.2-10.5l0.2 11.1l0.2-11.1l0.2 19l0.2-19l0.3 17.7l0.2-17.7l0.2 10.8l0.2-10.8l0.2 10.6l0.2-10.6l0.2 10.6l0.2-10.6l0.2 11.8l0.2-11.8l0.3 12.3l0.2-12.3l0.2 10.6l0.2-10.6l0.2 17.7l0.2-17.7l0.2 17l0.2-16.9l0.2 10.5l0.2-10.5l0.3 10.5l0.2-10.5l0.2 14.8l0.2-14.8l0.2 10.6l0.2-10.6l0.2 24l0.2-24l0.2 25.8l0.2-27l0.3 20.8l0.2-19.6l0.2 14.2l0.2-14.2l0.2 16.7l0.2-16.7l0.2 20.2l0.2-20.2l0.2 27.3l0.2-27.3l0.3 23.3l0.2-23.3l0.2 15.4l0.2-15.4l0.2 10.6l0.2-10.5l0.2 16.2l0.2-16.2l0.2 10.5l0.2-10.5l0.3 11.5l0.2-11.5l0.2 17.3l0.2-17.3l0.2 23.1l0.2-23.1l0.2 10.5l0.2-10.5l0.2 10.5l0.2-10.5l0.3 15.7l0.2-16.7l0.2 15.7l0.2-14.7l0.2 10.6l0.2-10.6l0.2 10.6l0.2-10.6l0.2 10.6l0.2-10.6l0.3 14.8l0.2-14.8l0.2 11.7l0.2-11.6l0.2 10.5l0.2-11.3l0.2 22l0.2-21.2l0.2 10.5l0.2-10.5l0.3 11.2l0.2-11.2l0.2 10.8l0.2-10.8l0.2 12.3l0.2-12.3l0.2 10.6l0.2-11.9l0.2 24.3l0.2-23l0.3 20l0.2-20l0.2 10.6l0.2-10.6l0.2 23.3l0.2-23.3l0.2 13.9l0.2-13.9l0.2 17.4l0.2-17.3l0.3 10.5l0.2-10.5l0.2 12.8l0.2-12.8l0.2 10.5l0.2-11.6l0.2 11.6l0.2-10.5l0.2 25.6l0.2-25.6l0.3 10.5l0.2-10.5l0.2 10.5l0.2-10.5l0.2 23.3l0.2-23.3l0.2 11.4l0.2-12.6l0.2 20l0.2-18.8l0.3 22.4l0.2-22.4l0.2 10.6l0.2-10.6l0.2 10.6l0.2-10.6l0.2 18.1l0.2-18l0.2 14.3l0.2-14.3l0.3 19.5l0.2-19.5l0.2 10.5l0.2-10.5l0.2 25.2l0.2-26.2l0.2 13.3l0.2-12.3l0.2 10.5l0.2-10.5l0.3 10.5l0.2-10.5l0.2 20.5l0.2-20.5l0.2 18.9l0.2-18.9l0.2 21.5l0.2-21.5l0.2 12.8l0.2-12.8l0.3 10.6l0.2-10.6l0.2 13.9l0.2-13.8l0.2 10.5l0.2-10.5l0.2 10.5l0.2-11.6l0.2 29.9l0.2-28.8l0.3 10.5l0.2-10.5l0.2 10.5l0.2-10.5l0.2 11l0.2-11l0.2 10.5l0.2-10.5l0.2 21.5l0.2-21.5l0.3 10.6l0.2-10.6l0.2 25.6l0.2-25.6l0 16.1l0.3-16.1"/>
<path fill="#00ffff" stroke="none" d="M548 245l5-1.7l5-1.7l5-1.7l5-1.7l5-1.7l5-1.7l1.1-0.7l1-2.3l1 2.3l1.9-1l5-1.7l5-1.7l1.1-0.7l1-1.3l1 1.3l1.9-1l5-1.7l5-1.7l0.4-0.4l1-1.3l1 1.3l2.6-1.2l5-1.7l5-1.7l2-1l1-1.1l1 1.1l1-0.6l5-1.6l-0.2-0.3l1-2.1l1 2.1l3.2-1.4l0.4-0.4l1-2.3l1 2.3l2.6-1.1l5-1.6l2.5-1.1l1-1.6l1 1.6l0.5-0.4l5-1.5l2.4-1l1-1.9l1 1.9l0.6-0.4l5-1.4l5-1.3l0.8-0.5l1-1.1l1 1.1l2.2-0.7l0-0.3l1-1.3l1 1.3l3-0.9l5-1l1.7-0.5l1-1.4l1 1.4l1.3-0.5l2.1-0.5l1-1.6l1 1.6l0.9-0.3l1.1-0.3l1-1.9l1 1.9l1.9-0.4l2.5-0.5l1-0.9l1 0.9l0.5-0.1l5-0.6l5-0.4l2-0.3l1-1.4l1 1.4l1-0.1l5-0.3l-0.1 0l1-1.2l1 1.2l3.1-0.2l5-0.2l1.9-0.1l1-2.2l1 2.2l1.1-0.1l5-0.1l0.8-0.1l1-1.6l1 1.6l2.2 0l5-0.1l1.9 0l1-2.1l1 2.1l1.1-0.1l5 0l2.4-0.1l1-1l1 1l0.6 0l1.8 0l0 14.4l-1.8 0l-5 0.1l-5 0l-5 0.1l-5 0.1l-5 0.1l-5 0.1l-5 0.2l-5 0.2l-5 0.2l-5 0.3l-5 0.4l-5 0.4l-5 0.6l-5 0.6l-5 0.7l-5 0.8l-5 1l-5 1l-5 1.2l-5 1.2l-5 1.3l-5 1.4l-5 1.4l-5 1.5l-5 1.5l-5 1.6l-5 1.5l-5 1.7l-5 1.6l-5 1.6l-5 1.7l-5 1.7l-5 1.6l-5 1.7l-5 1.7l-5 1.7l-5 1.7l-5 0l-5 0.1l-5 0.1l-5 0.1l-5 0l-5 0.1l-5 0.1l-5 0.1Z"/>
<path stroke="#00ffff" stroke-dasharray="5 0.4 0.9 0.4" d="M121.2 426.4l2-1l2-1l2-1.1l2-1l2-1l2-1l2-1l2-1.1l2-1l2-1l2-1l2-1l2-1.1l2-1l2-1l2-1l2-1l2-1.1l2-1l2-1l2-1l2-1l2-1.1l2-1l2-1l2-1l2-1l2-1.1l2-1l2-1l2-1l2-1l2-1.1l2-1l2-1l2-1l2-1l2-1.1l2-1l2-1l2-1l2-1l2-1l2-1.1l2-1l2-1l2-1l2-1l2-1.1l2-1l2-1l2-1l2-1l2-1l2-1.1l2-1l2-1l2-1l2-1l2-1l2-1.1l2-1l2-1l2-1l2-1l2-1l2-1l2-1l2-1.1l2-1l2-1l2-1l2-1l2-1l2-1l2-1l2-1l2-1l2-1l2-1l2-1l2-1l2-1l2-1l2-1l2-1l2-1l2-1l2-0.9l2-1l2-1l2-1l2-0.9l2-1l2-1l2-0.9l2-1l2-0.9l2-0.9l2-1l2-0.9l2-0.9l2-0.9l2-0.9l2-0.9l2-0.9l2-0.9l2-0.8l2-0.9l2-0.8l2-0.8l2-0.8l2-0.8l2-0.7l2-0.7l2-0.7l2-0.7l2-0.6l2-0.5l2-0.5l2-0.5"/>
<path stroke="#00ffff" stroke-dasharray="7.3 2.2 1.1 2.1" d="M363.2 309.5l2-0.4l2-0.2l3.2-0.2l2.7 0.3l2.1 0.7l1.6 1l1.4 1.6l0.9 2l0.7 2.7l0.4 3.2l0.2 4.3l0.2 20.5l0.2-21.3l0.3-4.5l0.4-3.5l0.8-3.3l1.1-2.7l1.5-2.7l1.8-2.3l2.5-2.4l3.1-2.2l3.7-2l3.7-1.3l3-0.5l2.5 0.3l1.8 0.7l1.6 1.4l1 1.9l0.8 2.6l0.5 3.2l0.2 4.3l0.2 13.1l0.1-11l0.2-4.5l0.3-3.5l0.5-3.1l0.7-2.6l1-2.4l1.1-2.1l1.6-1.9l2-1.8l2.3-1.4l2.3-0.7l2 0.1l1.6 0.6l1.1 1.1l1 1.6l0.7 2l0.5 2.8l0.3 3.2l0.1 4.3l0.2 9.7l0.1-8.3l0.1-4.5l0.2-3.4l0.4-3l0.5-2.6l0.7-2.3l0.9-1.9l1.1-1.8l1.5-1.5l1.7-1.2l1.7-0.4l1.5 0.3l1.1 0.8l0.9 1.2l0.7 1.7l0.5 2.1l0.4 2.8l0.2 3.3l0.1 4.3l0.1 25l0.1-27.3l0.3-5.2l0.5-4.2l0.8-3.2l1.2-2.6l1.5-2l1.3-1l1.4-0.2l1.5 0.6l1.2 1.7l0.8 2.5l0.5 3.8l0.2 5l0.2 10.5l0.1-9.7l0.2-5.2l0.4-4.1l0.7-3.2l1-2.5l1.2-1.9l1.1-0.8l1.2-0.2l1.2 0.8l1 1.7l0.6 2.6l0.5 3.8l0.2 5.1l0.1 10.5l0.1-9.9l0.2-5.2l0.4-4.1l0.5-3.1l0.8-2.5l1.1-1.8l1-0.8l1 0l1 0.8l0.8 1.8l0.6 2.7l0.4 3.8l0.2 5.1l0 25.4l0.1-24.9l0.2-5.2l0.3-4.1l0.5-3.1l0.7-2.4l1-1.7l0.8-0.7l0.9-0.1l0.9 0.9l0.7 1.9l0.5 2.7l0.3 3.8l0.2 5.1l0.1 12.4l0-11.9l0.2-5.2l0.3-4.1l0.4-3.1l0.6-2.4l0.9-1.6l0.7-0.7l0.8 0l0.8 0.9l0.6 1.9l0.5 2.7l0.3 3.9l0.1 5.1l0.1 13.5l0.1-13.1l0.1-5.2l0.2-4l0.4-3.1l0.6-2.4l0.8-1.6l0.6-0.7l0.7 0.1l0.8 1l0.5 1.9l0.4 2.7l0.3 3.8l0.1 5.1l0.1 10.1l0-9.6l0.2-5.2l0.2-4.1l0.4-3l0.5-2.4l0.6-1.6l0.7-0.6l0.6 0.1l0.7 1l0.5 1.9l0.3 2.7l0.3 3.9l0.1 5.1l0 7.6l0.2-11.7l0.3-5.3l0.5-3.8l0.7-2.3l0.7-0.9l0.7 0.2l0.7 1.7l0.6 3.4l0.2 5.1l0.2 15.1l0.1-14.8l0.3-5.3l0.4-3.8l0.7-2.3l0.7-0.9l0.6 0.3l0.7 1.7l0.5 3.4l0.2 5.2l0.1 22.2l0.2-22l0.2-5.3l0.5-3.8l0.6-2.3l0.6-0.8l0.6 0.3l0.6 1.7l0.4 3.4l0.3 5.2l0.1 12.6l0.1-12.4l0.2-5.3l0.5-3.8l0.5-2.2l0.6-0.8l0.6 0.3l0.5 1.7l0.4 3.5l0.3 5.1l0.1 13.3l0.1-13.1l0.2-5.3l0.4-3.7l0.5-2.3l0.6-0.8l0.5 0.4l0.5 1.7l0.4 3.5l0.2 5.1l0.1 22.1l0.1-21.9l0.2-5.3l0.4-3.7l0.5-2.3l0.5-0.7l0.5 0.3l0.5 1.8l0.4 3.4l0.2 5.2l0.1 20.6l0.1-20.4l0.2-5.3l0.3-3.8l0.5-2.2l0.4-0.7l0.5 0.3l0.5 1.8l0.3 3.5l0.2 5.1l0.1 15.5l0.1-15.3l0.2-5.3l0.3-3.7l0.5-2.2l0.4-0.8l0.5 0.4l0.4 1.8l0.3 3.4l0.2 5.2l0.1 15l0.1-14.8l0.2-5.3l0.3-3.7l0.4-2.2l0.4-0.8l0.5 0.4l0.4 1.8l0.3 3.5l0.2 5.1l0 15.3l0.1-15.1l0.2-5.3l0.3-3.7l0.4-2.2l0.4-0.7l0.4 0.4l0.4 1.8l0.3 3.5l0.2 5.1l0 14.7l0.1-14.5l0.2-5.3l0.3-3.7l0.4-2.2l0.3-0.7l0.4 0.4l0.4 1.8l0.3 3.5l0.2 5.2l0 13.5l0.1-13.4l0.1-5.3l0.3-3.7l0.4-2.1l0.4-0.8l0.3 0.4l0.4 1.9l0.3 3.4l0.1 5.2l0.1 15l0.1-14.8l0.1-5.3l0.3-3.7l0.3-2.2l0.4-0.7l0.3 0.4l0.4 1.9l0.2 3.4l0.2 5.2l0.1 11.6l0-11.4l0.2-5.3l0.2-3.7l0.4-2.2l0.3-0.7l0.3 0.4l0.4 1.9l0.2 3.5l0.2 5.2l0 15l0.2-18.3l0.3-5.6l0.6-2.8l0.7 2.2l0.3 5.4l0.1 13.7l0.1-13.6l0.3-5.6l0.7-2.9l0.6 2.3l0.3 5.4l0.1 15.4l0.1-15.3l0.3-5.6l0.6-2.9l0.6 2.3l0.3 5.4l0.1 18.7l0.2-18.6l0.2-5.6l0.6-2.8l0.6 2.3l0.3 5.4l0.1 17.4l0.1-17.4l0.3-5.6l0.5-2.8l0.6 2.3l0.3 5.4l0.1 16.9l0.1-16.8l0.2-5.6l0.6-2.8l0.5 2.3l0.3 5.4l0.1 15.7l0.1-15.6l0.3-5.6l0.5-2.8l0.5 2.3l0.3 5.4l0.1 13.2l0.1-13.1l0.2-5.6l0.5-2.8l0.6 2.3l0.2 5.4l0.1 14.5l0.1-14.4l0.2-5.6l0.5-2.8l0.5 2.3l0.3 5.5l0.1 16.5l0.1-16.5l0.2-5.6l0.5-2.8l0.5 2.4l0.2 5.4l0.1 15.1l0.1-15l0.2-5.6l0.5-2.8l0.4 2.3l0.3 5.5l0.1 17.9l0.1-17.9l0.2-5.6l0.4-2.7l0.5 2.3l0.2 5.4l0.1 15l0.1-14.9l0.2-5.6l0.4-2.7l0.5 2.3l0.2 5.4l0.1 15.9l0.1-15.8l0.2-5.6l0.4-2.7l0.5 2.3l0.2 5.5l0 18.1l0.1-18.1l0.2-5.6l0.5-2.7l0.4 2.3l0.2 5.5l0.1 17.3l0-17.3l0.2-5.6l0.5-2.7l0.4 2.4l0.2 5.4l0 13.1l0.1-13l0.2-5.6l0.4-2.8l0.4 2.4l0.2 5.4l0.1 14.8l0.1-14.7l0.2-5.6l0.4-2.7l0.3 2.4l0.2 5.4l0.1 15.7l0.1-15.7l0.2-5.5l0.4-2.8l0.3 2.4l0.2 5.5l0.1 16.5l0.1-16.5l0.2-5.6l0.3-2.7l0.4 2.4l0.2 5.4l0.1 12.7l0-12.6l0.2-5.6l0.4-2.7l0.3 2.4l0.2 5.4l0.1 18.6l0.1-18.5l0.1-5.6l0.4-2.7l0.4 2.4l0.1 5.4l0.1 11l0.1-10.9l0.1-5.6l0.4-2.7l0.3 2.4l0.2 5.4l0.1 13.1l0.1-13l0.1-5.6l0.4-2.7l0.3 2.4l0.2 5.4l0 16.2l0.1-16.1l0.2-5.6l0.3-2.7l0.3 2.4l0.2 5.4l0.1 13.2l0-13.1l0.2-5.6l0.3-2.7l0.4 2.4l0.1 5.5l0.1 16.1l0.1-16.1l0.1-5.6l0.3-2.7l0.4 2.4l0.1 5.5l0.1 13.9l0-13.9l0.2-5.5l0.3-2.7l0.3 2.4l0.2 5.4l0 13.2l0.1-13.1l0.2-5.6l0.3-2.7l0.3 2.4l0.1 5.5l0.1 13.3l0.1-13.3l0.1-5.6l0.3-2.7l0.3 2.5l0.2 5.4l0 14l0.1-13.9l0.1-5.6l0.3-2.7l0.3 2.4l0.2 5.5l0 10.4l0.2-14.7l0.3-3.9l0.4 3.6l0.1 19l0.2-19l0.3-4l0.4 3.7l0.1 14l0.2-14l0.3-4l0.3 3.7l0.2 13.7l0.1-13.8l0.3-3.9l0.4 3.6l0.1 13.6l0.2-13.6l0.3-3.9l0.3 3.6l0.1 15.3l0.2-15.3l0.3-4l0.3 3.7l0.2 14l0.1-14l0.3-4l0.3 3.7l0.2 15.4l0.1-15.4l0.3-4l0.3 3.7l0.1 16.7l0.2-16.7l0.3-4l0.3 3.7l0.1 17.8l0.1-17.8l0.3-3.9l0.4 3.6l0.1 17.7l0.1-17.7l0.3-3.9l0.3 3.6l0.1 14.5l0.2-14.5l0.2-3.9l0.3 3.7l0.2 17l0.1-17.1l0.3-3.9l0.3 3.7l0.1 11.8l0.1-11.8l0.3-4l0.3 3.7l0.1 14.4l0.1-14.4l0.3-3.9l0.3 3.6l0.1 20.3l0.1-20.3l0.3-3.9l0.3 3.7l0.1 13.1l0.1-13.1l0.3-4l0.2 3.7l0.2 12.3l0.1-12.3l0.2-3.9l0.3 3.7l0.1 20.5l0.1-20.6l0.3-3.9l0.3 3.7l0.1 11.8l0.1-11.8l0.2-3.9l0.3 3.7l0.1 19.7l0.1-19.8l0.3-3.9l0.2 3.7l0.2 12.1l0.1-12.1l0.2-3.9l0.3 3.7l0.1 19.9l0.1-20l0.2-3.9l0.3 3.7l0.1 20.4l0.1-20.4l0.3-3.9l0.2 3.7l0.1 11.6l0.1-11.6l0.3-4l0.2 3.7l0.1 15.3l0.1-15.3l0.3-3.9l0.2 3.7l0.1 18.7l0.1-18.7l0.2-3.9l0.3 3.7l0.1 12.9l0.1-12.9l0.2-3.9l0.3 3.7l0.1 10.3l0.1-10.4l0.2-3.9l0.2 3.7l0.1 15.2l0.1-15.2l0.3-3.9l0.2 3.7l0.1 15.3l0.1-15.3l0.2-3.9l0.2 3.7l0.1 10.4l0.1-10.4l0.3-3.9l0.2 3.7l0.1 12l0.1-12l0.2-3.9l0.2 3.7l0.1 10.6l0.1-10.6l0.2-3.9l0.3 3.7l0.1 14.3l0-14.4l0.3-3.9l0.2 3.8l0.1 12.9l0.1-13l0.2-3.9l0.2 3.7l0.1 9.8l0.1-9.8l0.2-3.9l0.2 3.7l0.1 11.9l0.1-11.9l0.2-3.9l0.2 3.7l0.1 9.9l0.1-9.9l0.2-3.9l0.2 3.7l0.1 19.5l0.1-19.5l0.2-3.9l0.2 3.8l0.1 10l0.1-10.1l0.2-3.9l0.2 3.8l0.1 12.6l0.1-12.7l0.2-3.9l0.2 3.8l0.1 9.2l0-9.3l0.2-3.8l0.2 3.7l0.1 9.2l0.1-9.2l0.2-3.9l0.2 3.7l0.1 9.7l0.1-9.7l0.2-3.9l0.2 3.7l0.1 10.4l0-10.4l0.2-3.9l0.2 3.7l0.1 13.6l0.1-13.6l0.2-3.9l0.2 3.7l0.1 11.6l0-11.6l0.2-3.9l0.2 3.8l0.1 10.7l0.1-10.8l0.2-3.8l0.2 3.7l0 9.6l0.1-9.6l0.2-3.9l0.2 3.7l0.1 9.4l0.1-9.4l0.1-3.9l0.2 3.7l0.1 9.6l0.1-9.6l0.2-3.9l0.2 3.8l0 10.2l0.1-10.3l0.2-3.8l0.2 3.7l0.1 12.5l0-12.5l0.2-3.9l0.2 3.7l0.1 9.7l0-9.7l0.2-3.9l0.2 3.7l0.1 14.6l0.1-14.6l0.1-3.9l0.2 3.8l0.1 14.6l0.1-14.6l0.1-3.9l0.2 3.7l0.1 8.2l0.1-8.2l0.1-3.9l0.2 3.8l0.1 20.9l0.1-21l0.1-3.8l0.2 3.7l0.1 13.6l0.1-13.6l0.1-3.9l0.2 3.7l0.1 12.8l0-12.8l0.2-3.9l0.2 3.8l0.1 8.1l0-8.1l0.2-3.9l0.2 3.7l0 16.6l0.1-16.6l0.2-3.9l0.1 3.8l0.1 10l0.1-10.1l0.1-3.8l0.2 3.7l0.1 15.2l0.1-15.2l0.1-3.9l0.2 3.8l0.2 6.6l0.2-11.2l0.2 12.2l0.2-11.7l0.2 16.2l0.2-16.3l0.3 10.4l0.2-10.6l0.2 23.3l0.2-23.4l0.2 16.9l0.2-17.1l0.2 10.5l0.2-10.6l0.2 10.5l0.2-10.6l0.3 12.6l0.2-12.8l0.2 10.5l0.2-10.6l0.2 16.3l0.2-16.4l0.2 10.4l0.2-10.6l0.2 16.8l0.2-16.9l0.3 11l0.2-11.1l0.2 13.4l0.2-13.6l0.2 21.1l0.2-21.2l0.2 17.8l0.2-17.9l0.2 18.1l0.2-18.3l0.3 10.5l0.2-10.6l0.2 10.5l0.2-10.6l0.2 11.9l0.2-12.1l0.2 10.5l0.2-12l0.2 11.9l0.2-10.6l0.3 16.4l0.2-16.6l0.2 12.8l0.2-12.9l0.2 12.5l0.2-12.6l0.2 16.8l0.2-18.3l0.2 11.8l0.2-10.6l0.3 17.6l0.2-17.7l0.2 15.9l0.2-16.1l0.2 13l0.2-13.1l0.2 14.3l0.2-14.4l0.2 10.5l0.2-10.7l0.3 20.7l0.2-20.8l0.2 10.5l0.2-10.6l0.2 13.8l0.2-14.9l0.2 13.8l0.2-13l0.2 13l0.2-13.1l0.3 14.2l0.2-14.3l0.2 24.6l0.2-24.8l0.2 10.5l0.2-10.6l0.2 12.5l0.2-13.9l0.2 11.8l0.2-10.7l0.3 31.3l0.2-31.4l0.2 17.4l0.2-17.5l0.2 11.8l0.2-11.9l0.2 10.4l0.2-11.6l0.2 11.5l0.2-10.6l0.3 26.7l0.2-26.8l0.2 16.8l0.2-18.7l0.2 25.7l0.2-24.1l0.2 19l0.2-19.1l0.2 20.7l0.2-20.8l0.3 14.7l0.2-14.8l0.2 17.4l0.2-17.6l0.2 10.5l0.2-10.6l0.2 23.7l0.2-23.8l0.2 10.5l0.2-10.6l0.3 10.4l0.2-10.6l0.2 10.5l0.2-10.6l0.2 10.5l0.2-10.6l0.2 11.4l0.2-11.5l0.2 19.1l0.2-19.3l0.3 20.3l0.2-20.4l0.2 16.5l0.2-16.6l0.2 21.4l0.2-21.5l0.2 12.7l0.2-12.8l0.2 10.4l0.2-10.6l0.3 10.5l0.2-10.6l0.2 16.3l0.2-17.5l0.2 21.3l0.2-20.3l0.2 10.5l0.2-10.6l0.2 16.7l0.2-16.9l0.3 10.6l0.2-10.7l0.2 16.6l0.2-16.7l0.2 20.7l0.2-20.8l0.2 10.5l0.2-10.6l0.2 15.8l0.2-15.9l0.3 22.1l0.2-22.3l0.2 12.4l0.2-12.5l0.2 15.5l0.2-15.6l0.2 15.3l0.2-15.4l0.2 10.5l0.2-10.6l0.3 17.2l0.2-17.3l0.2 10.5l0.2-10.6l0.2 20.5l0.2-20.7l0.2 23.2l0.2-23.3l0.2 13.3l0.2-13.4l0.3 10.5l0.2-10.6l0.2 10.5l0.2-10.6l0.2 26l0.2-26.1l0.2 17.5l0.2-17.6l0.2 17.5l0.2-17.6l0.3 10.5l0.2-10.6l0.2 12.7l0.2-12.8l0.2 10.4l0.2-10.5l0.2 25.6l0.2-25.8l0.2 10.6l0.2-10.7l0.3 10.5l0.2-10.6l0.2 10.5l0.2-10.6l0.2 10.5l0.2-10.6l0.2 12.1l0.2-12.2l0.2 13.3l0.2-13.4l0.3 21.7l0.2-21.8l0.2 21.1l0.2-21.2l0.2 11.1l0.2-11.2l0.2 13.2l0.2-13.3l0.2 10.5l0.2-10.6l0.3 11.9l0.2-12l0.2 10.5l0.2-10.6l0.2 18.7l0.2-18.8l0.2 10.5l0.2-10.6l0.2 10.5l0.2-10.6l0.3 10.5l0.2-11.7l0.2 11.6l0.2-10.6l0.2 10.5l0.2-10.6l0.2 13.8l0.2-13.9l0.2 14.1l0.2-14.1l0.3 16.7l0.2-16.8l0.2 10.5l0.2-10.6l0.2 14.3l0.2-14.4l0.2 10.5l0.2-10.6l0.2 16.5l0.2-16.6l0.3 15l0.2-15.1l0.2 12.9l0.2-13l0.2 38.4l0.2-38.5l0.2 10.5l0.2-10.6l0.2 10.5l0.2-10.5l0.3 15.7l0.2-15.8l0.2 10.7l0.2-10.8l0.2 19.6l0.2-19.7l0.2 10.5l0.2-10.6l0.2 25.8l0.2-25.9l0.3 10.5l0.2-10.5l0.2 10.5l0.2-10.6l0.2 10.5l0.2-10.6l0.2 10.5l0.2-10.6l0.2 11.9l0.2-12l0.3 17.6l0.2-17.6l0.2 12.5l0.2-12.6l0.2 12.8l0.2-12.9l0.2 18.9l0.2-19l0.2 10.5l0.2-11.6l0.3 15.1l0.2-14.1l0.2 10.5l0.2-11.4l0.2 24.2l0.2-23.5l0.2 10.5l0.2-10.6l0.2 25.7l0.2-25.7l0.3 10.5l0.2-10.6l0.2 10.5l0.2-10.6l0.2 15.6l0.2-17.2l0.2 12.1l0.2-10.6l0.2 10.5l0.2-10.6l0.3 21.3l0.2-21.3l0.2 10.5l0.2-12.2l0.2 13.6l0.2-12.1l0.2 11.3l0.2-11.3l0.2 36.3l0.2-36.4l0.3 16.5l0.2-16.6l0.2 10.5l0.2-10.5l0.2 13.3l0.2-13.4l0.2 11.6l0.2-11.7l0.2 10.6l0.2-10.6l0.3 24.4l0.2-24.5l0.2 10.5l0.2-11.5l0.2 25.6l0.2-24.7l0.2 10.5l0.2-10.5l0.2 10.9l0.2-11l0.3 10.5l0.2-10.6l0.2 10.6l0.2-10.6l0.2 23.6l0.2-23.7l0.2 23.1l0.2-23.1l0.2 12l0.2-12.1l0.3 17.3l0.2-17.3l0.2 10.6l0.2-10.7l0.2 18.2l0.2-18.2l0.2 10.5l0.2-10.6l0.2 10.5l0.2-10.5l0.3 10.5l0.2-10.6l0.2 16.4l0.2-17.3l0.2 11.4l0.2-10.6l0.2 10.5l0.2-10.5l0.2 23.3l0.2-23.4l0.3 10.5l0.2-10.5l0.2 10.5l0.2-10.6l0.2 20.2l0.2-20.8l0.2 15.9l0.2-15.4l0.2 10.8l0.2-10.8l0.3 12.9l0.2-13l0.2 15.3l0.2-15.3l0.2 20.6l0.2-21.8l0.2 13.3l0.2-12.2l0.2 14.8l0.2-14.8l0.3 14.8l0.2-14.9l0.2 13.4l0.2-13.4l0.2 10.5l0.2-10.5l0.2 12.2l0.2-12.3l0.2 10.6l0.2-10.6l0.3 24l0.2-24l0.2 10.5l0.2-10.6l0.2 10.5l0.2-10.5l0.2 26l0.2-27.7l0.2 12.2l0.2-10.6l0.3 10.5l0.2-10.5l0.2 12.5l0.2-12.6l0.2 18.4l0.2-18.4l0.2 10.5l0.2-10.5l0.2 10.5l0.2-10.6l0.3 10.8l0.2-12.1l0.2 11.8l0.2-10.5l0.2 14.7l0.2-14.8l0.2 17l0.2-17l0.2 13.3l0.2-13.3l0.3 15.7l0.2-15.7l0.2 14.5l0.2-14.6l0.2 18.7l0.2-18.7l0.2 10.5l0.2-10.5l0.2 10.5l0.2-10.6l0.3 18.4l0.2-18.4l0.2 10.6l0.2-10.6l0.2 10.8l0.2-11.5l0.2 27.6l0.2-27l0.2 18.5l0.2-18.5l0.3 14.6l0.2-14.6l0.2 10.5l0.2-10.5l0.2 10.5l0.2-10.6l0.2 10.6l0.2-10.6l0.2 10.6l0.2-10.6l0.3 10.7l0.2-10.7l0.2 10.5l0.2-10.5l0.2 10.5l0.2-11.8l0.2 24.9l0.2-23.7l0.2 14.1l0.2-14.1l0.3 15.2l0.2-15.2l0.2 16l0.2-16.1l0.2 18.7l0.2-18.7l0.2 10.6l0.2-10.6l0.2 10.5l0.2-10.5l0.3 11.6l0.2-11.6l0.2 10.5l0.2-10.6l0.2 12.9l0.2-12.9l0.2 22.1l0.2-22.1l0.2 10.5l0.2-11.3l0.3 11.3l0.2-10.5l0.2 23.6l0.2-23.6l0.2 20.5l0.2-20.6l0.2 11.5l0.2-11.5l0.2 15.2l0.2-15.2l0.3 23.7l0.2-23.7l0.2 10.5l0.2-10.5l0.2 22.5l0.2-22.5l0.2 11.6l0.2-11.6l0.2 10.5l0.2-10.6l0.3 12.4l0.2-14.1l0.2 19.4l0.2-18.7l0.2 15.9l0.2-14.9l0.2 10.5l0.2-12.2l0.2 15.9l0.2-14.2l0.3 10.5l0.2-10.5l0.2 10.5l0.2-10.6l0.2 10.6l0.2-10.6l0.2 10.6l0.2-10.6l0.2 12.1l0.2-12.1l0.3 11.6l0.2-11.6l0.2 22.5l0.2-22.5l0.2 10.5l0.2-10.5l0.2 17.3l0.2-17.3l0.2 10.5l0.2-10.6l0.3 10.6l0.2-10.6l0.2 18.4l0.2-18.4l0.2 11.2l0.2-11.2l0.2 10.6l0.2-10.6l0.2 13.8l0.2-13.8l0.3 11l0.2-11l0.2 10.5l0.2-10.5l0.2 18.8l0.2-18.8l0.2 12.2l0.2-12.2l0.2 20.4l0.2-20.5l0.3 12.7l0.2-14.1l0.2 18.3l0.2-16.9l0.2 10.6l0.2-10.6l0.2 17.7l0.2-17.7l0.2 11l0.2-11l0.3 12.6l0.2-12.6l0.2 10.5l0.2-10.5l0.2 22.4l0.2-22.4l0.2 12.3l0.2-12.3l0.2 24.9l0.2-24.9l0.3 10.5l0.2-10.5l0.2 15.6l0.2-15.7l0.2 14.6l0.2-14.6l0.2 11l0.2-11l0.2 16.4l0.2-16.4l0.3 10.6l0.2-10.6l0.2 12.4l0.2-12.4l0.2 12.2l0.2-12.2l0.2 24.9l0.2-24.9l0.2 25.1l0.2-25.1l0.3 17l0.2-17l0.2 13.7l0.2-13.7l0.2 14.2l0.2-14.2l0.2 10.5l0.2-10.5l0.2 10.5l0.2-10.5l0.3 10.5l0.2-10.5l0.2 24.1l0.2-24.1l0.2 14l0.2-14l0.2 10.6l0.2-10.7l0.2 10.6l0.2-10.6l0.3 10.6l0.2-10.6l0.2 12.3l0.2-12.3l0.2 22l0.2-22l0.2 24l0.2-24l0.2 11l0.2-11l0.3 19.5l0.2-19.5l0.2 10.6l0.2-10.6l0.2 10.5l0.2-10.5l0.2 23.1l0.2-23.1l0.2 10.5l0.2-10.5l0.3 10.5l0.2-10.5l0.2 14.5l0.2-14.5l0.2 13.7l0.2-13.7l0.2 21.5l0.2-21.5l0.2 10.5l0.2-10.5l0.3 20.9l0.2-20.9l0.2 13.4l0.2-13.4l0.2 10.5l0.2-10.5l0.2 23.3l0.2-23.3l0.2 23.5l0.2-23.5l0.3 14.6l0.2-14.6l0.2 10.5l0.2-10.5l0.2 13.1l0.2-13.2l0.2 17.8l0.2-17.8l0.2 10.6l0.2-10.6l0.3 21.8l0.2-21.8l0.2 14.1l0.2-14.1l0.2 10.6l0.2-10.6l0.2 10.6l0.2-10.6"/>
</g>
<path d="M295.35 37.05 V481" stroke="#000" stroke-width="1.3" fill="none"/>
<rect x="121.2" y="37.05" width="652.75" height="443.95" fill="none" stroke="#000" stroke-width="1.5"/>
<g font-family="'Liberation Serif', serif" fill="#000" text-rendering="geometricPrecision">
<text transform="translate(103.7 51.3) scale(0.955 1)" text-anchor="end" font-size="32">10<tspan font-size="26.5" dy="-15.6">0</tspan></text>
<text transform="translate(103.7 106.8) scale(0.955 1)" text-anchor="end" font-size="32">10<tspan font-size="26.5" dy="-15.6">-5</tspan></text>
<text transform="translate(103.7 162.3) scale(0.955 1)" text-anchor="end" font-size="32">10<tspan font-size="26.5" dy="-15.6">-10</tspan></text>
<text transform="translate(103.7 217.8) scale(0.955 1)" text-anchor="end" font-size="32">10<tspan font-size="26.5" dy="-15.6">-15</tspan></text>
<text transform="translate(103.7 273.3) scale(0.955 1)" text-anchor="end" font-size="32">10<tspan font-size="26.5" dy="-15.6">-20</tspan></text>
<text transform="translate(103.7 328.8) scale(0.955 1)" text-anchor="end" font-size="32">10<tspan font-size="26.5" dy="-15.6">-25</tspan></text>
<text transform="translate(103.7 384.3) scale(0.955 1)" text-anchor="end" font-size="32">10<tspan font-size="26.5" dy="-15.6">-30</tspan></text>
<text transform="translate(103.7 439.8) scale(0.955 1)" text-anchor="end" font-size="32">10<tspan font-size="26.5" dy="-15.6">-35</tspan></text>
<text transform="translate(103.7 495.3) scale(0.955 1)" text-anchor="end" font-size="32">10<tspan font-size="26.5" dy="-15.6">-40</tspan></text>
<text transform="translate(122.6 526.3) scale(0.955 1)" text-anchor="middle" font-size="32">10<tspan font-size="26.5" dy="-15.6">-8</tspan></text>
<text transform="translate(253.2 526.3) scale(0.955 1)" text-anchor="middle" font-size="32">10<tspan font-size="26.5" dy="-15.6">-7</tspan></text>
<text transform="translate(383.7 526.3) scale(0.955 1)" text-anchor="middle" font-size="32">10<tspan font-size="26.5" dy="-15.6">-6</tspan></text>
<text transform="translate(514.2 526.3) scale(0.955 1)" text-anchor="middle" font-size="32">10<tspan font-size="26.5" dy="-15.6">-5</tspan></text>
<text transform="translate(644.8 526.3) scale(0.955 1)" text-anchor="middle" font-size="32">10<tspan font-size="26.5" dy="-15.6">-4</tspan></text>
<text transform="translate(775.4 526.3) scale(0.955 1)" text-anchor="middle" font-size="32">10<tspan font-size="26.5" dy="-15.6">-3</tspan></text>
<text x="447.7" y="572.6" text-anchor="middle" font-size="41" font-style="italic">a</text>
<path d="M654.7 333.9H736.8" stroke="#ff0000" stroke-width="3" fill="none"/>
<path d="M654.7 365.1H736.8" stroke="#0000ff" stroke-width="3" stroke-dasharray="4.6 2.3" fill="none"/>
<path d="M654.7 396.2H736.8" stroke="#00ff00" stroke-width="3" stroke-dasharray="2.3 3.5" fill="none"/>
<path d="M654.7 427.4H736.8" stroke="#ff00ff" stroke-width="3" stroke-dasharray="1.3 1" fill="none"/>
<path d="M654.7 458.5H736.8" stroke="#00ffff" stroke-width="3" stroke-dasharray="7.3 2.2 1.1 2.1" fill="none"/>
<text transform="translate(637.2 345.3) scale(1.2 1.03)" text-anchor="end" stroke="#000" stroke-width="0.15" font-size="32">σ</text>
<text transform="translate(635.7 375.8) scale(0.9 1)" text-anchor="end" font-size="32" font-style="italic">V</text>
<text x="637.3" y="404.5" text-anchor="end" font-size="32"><tspan font-style="italic">v</tspan><tspan font-size="26.5" dy="8.7">b</tspan></text>
<text x="638" y="434.3" text-anchor="end" font-size="32"><tspan font-style="italic">v</tspan><tspan font-size="26.5" dy="8.7">γ</tspan></text>
<text x="636" y="468" text-anchor="end" font-size="32">δ<tspan font-style="italic">v</tspan></text>
</g>
</svg>
</body></html>
